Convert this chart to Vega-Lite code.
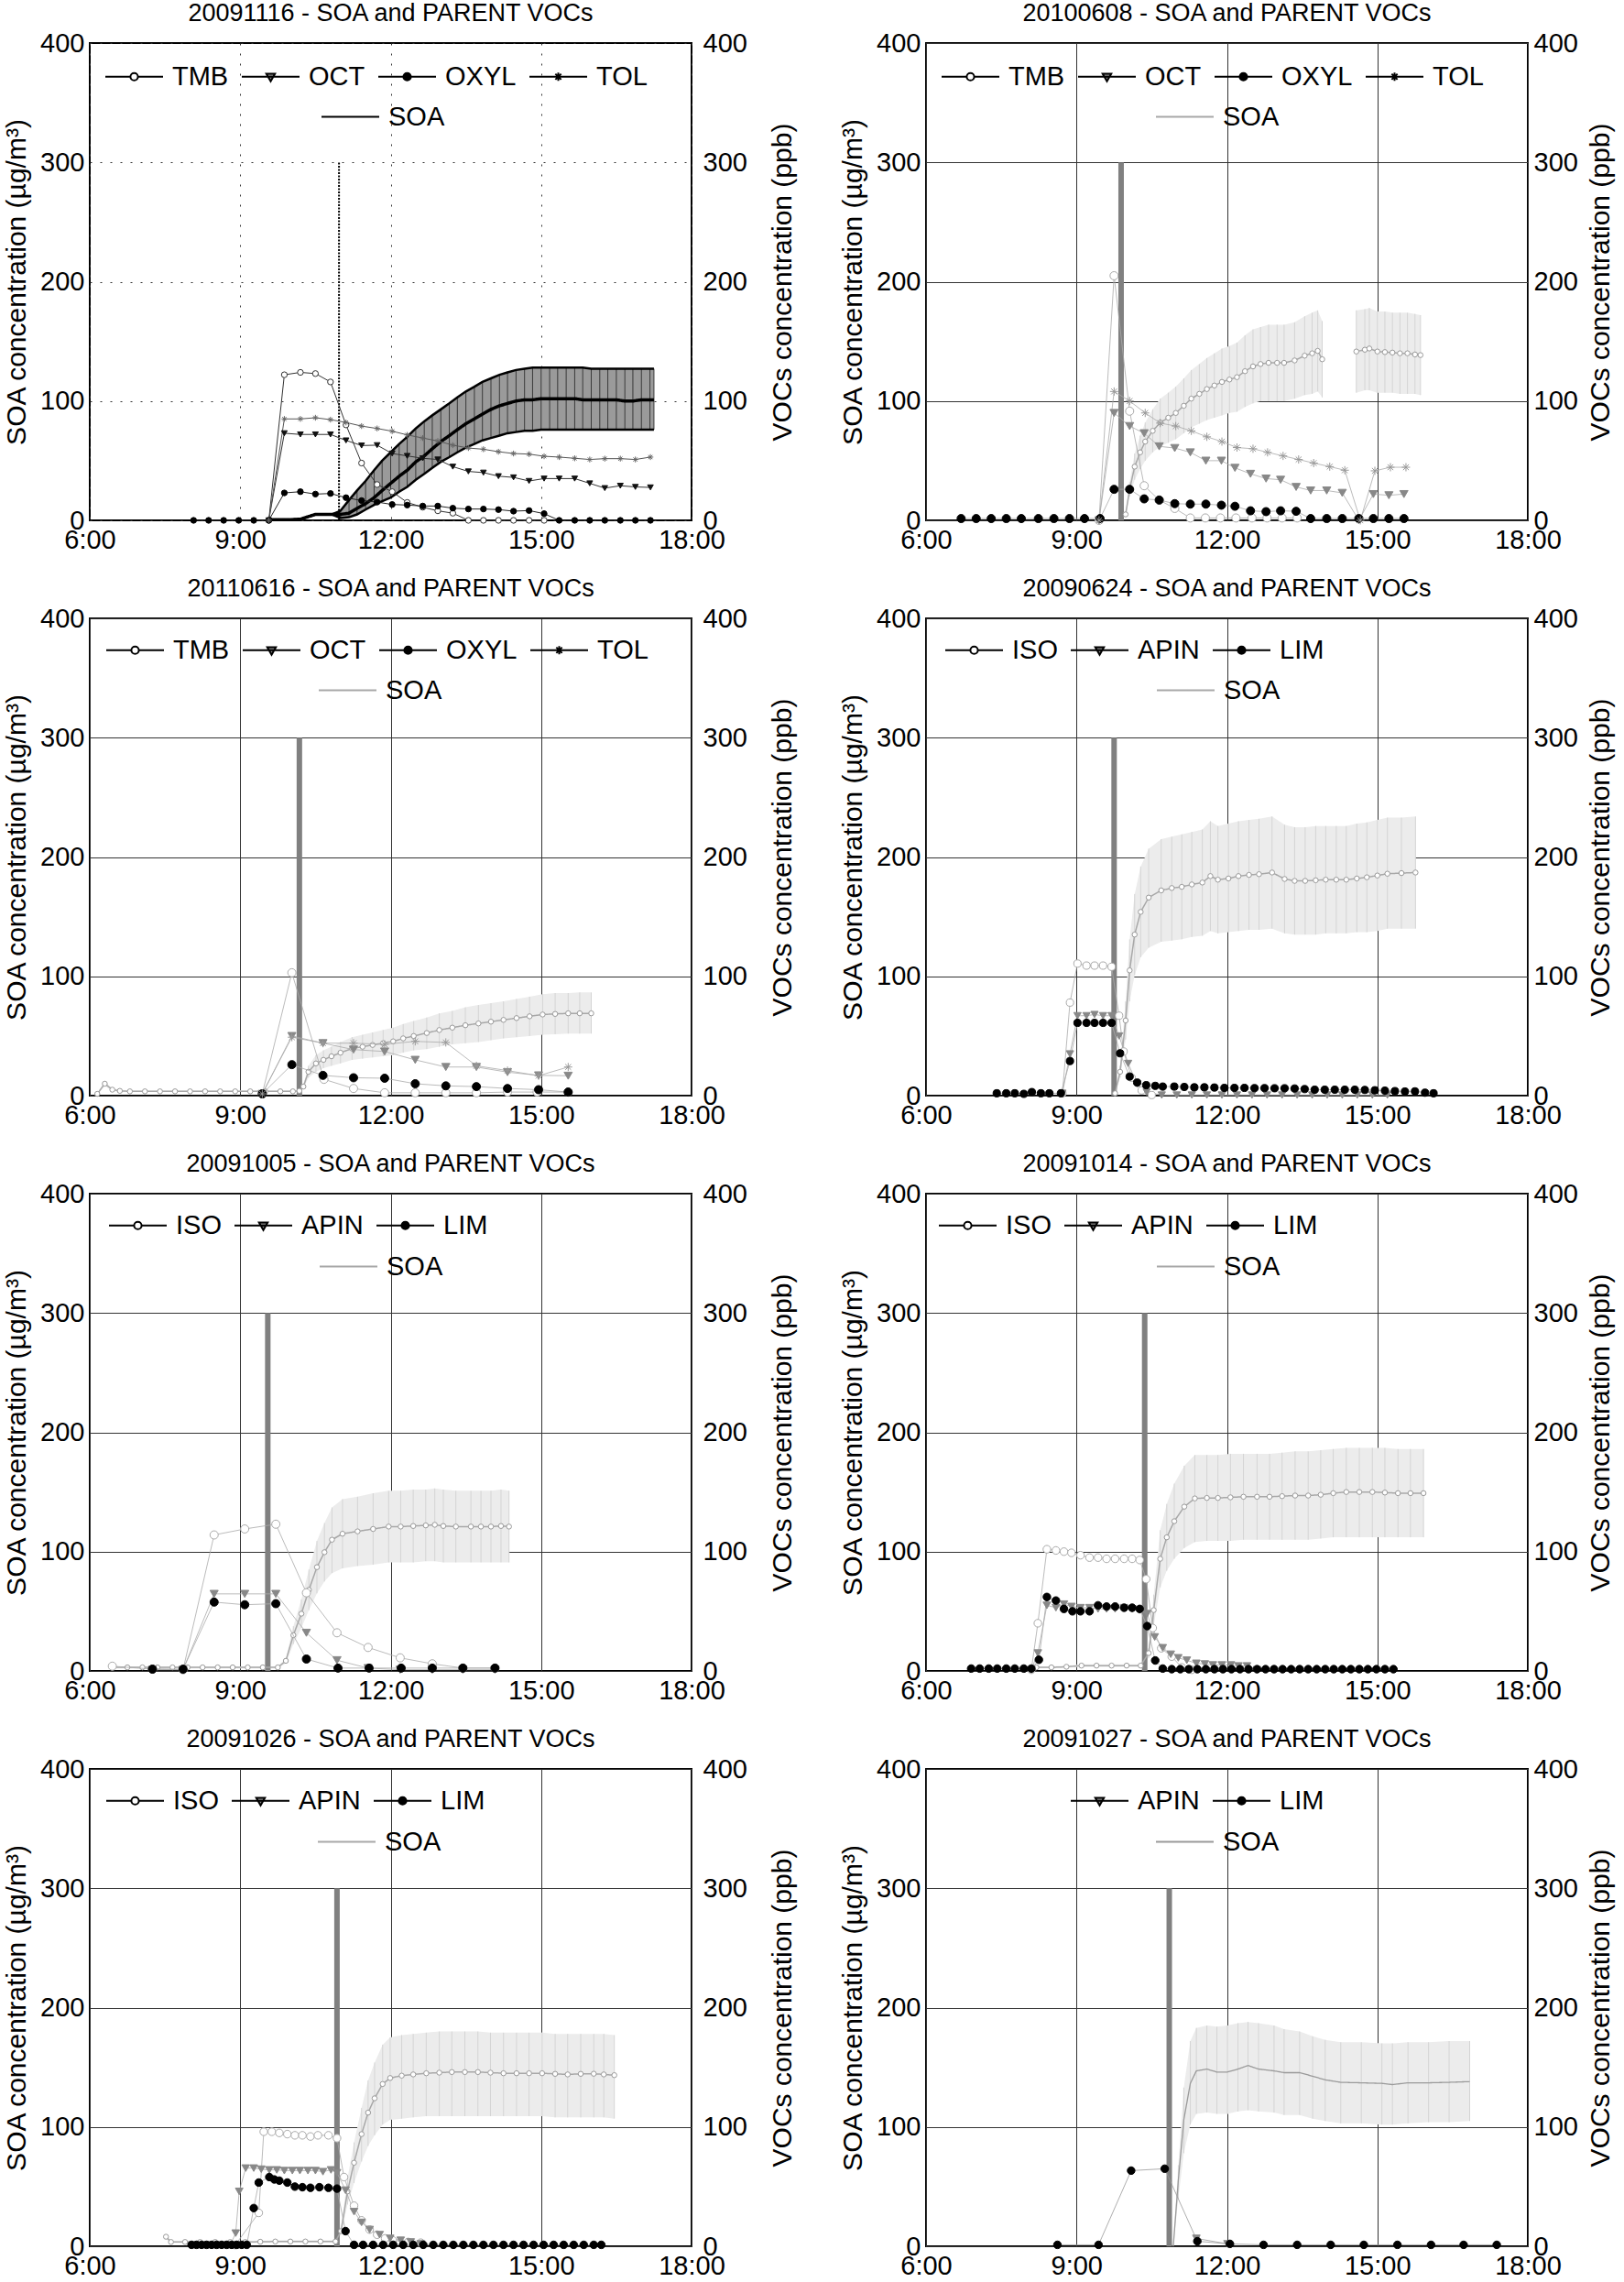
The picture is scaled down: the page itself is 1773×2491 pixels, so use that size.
{
  "$schema": "https://vega.github.io/schema/vega-lite/v6.json",
  "padding": {"left": 2, "top": 0, "right": 0, "bottom": 0},
  "background": "white",
  "datasets": {
    "inj": [
      {"p": 1, "t": 10.97}, {"p": 2, "t": 9.89}, {"p": 3, "t": 10.18}, {"p": 4, "t": 9.75},
      {"p": 5, "t": 9.55}, {"p": 6, "t": 10.36}, {"p": 7, "t": 10.93}, {"p": 8, "t": 10.85}
    ],
    "soa": [
      {"p":1,"t":9.6,"m":0.5,"lo":0.5,"hi":0.5},{"p":1,"t":9.8,"m":0.5,"lo":0.5,"hi":0.5},{"p":1,"t":10.0,"m":0.5,"lo":0.5,"hi":0.5},{"p":1,"t":10.2,"m":1,"lo":1,"hi":1},{"p":1,"t":10.35,"m":3,"lo":3,"hi":3},{"p":1,"t":10.5,"m":5,"lo":5,"hi":5},{"p":1,"t":10.67,"m":5,"lo":5,"hi":5},{"p":1,"t":10.83,"m":5,"lo":5,"hi":5},
      {"p":1,"t":11.0,"m":5,"lo":2,"hi":8},{"p":1,"t":11.17,"m":6,"lo":2.6,"hi":17},{"p":1,"t":11.33,"m":10,"lo":5,"hi":25},{"p":1,"t":11.5,"m":14,"lo":9,"hi":33},{"p":1,"t":11.67,"m":19,"lo":13,"hi":42},{"p":1,"t":11.83,"m":25,"lo":16,"hi":50},
      {"p":1,"t":12.0,"m":31,"lo":19,"hi":57},{"p":1,"t":12.17,"m":37,"lo":24,"hi":64},{"p":1,"t":12.33,"m":42,"lo":28,"hi":70},{"p":1,"t":12.5,"m":49,"lo":34,"hi":77},{"p":1,"t":12.67,"m":54,"lo":39,"hi":83},{"p":1,"t":12.83,"m":60,"lo":44,"hi":88},
      {"p":1,"t":13.0,"m":66,"lo":49,"hi":93},{"p":1,"t":13.17,"m":71,"lo":53,"hi":98},{"p":1,"t":13.33,"m":76,"lo":57,"hi":103},{"p":1,"t":13.5,"m":81,"lo":61,"hi":108},{"p":1,"t":13.67,"m":85,"lo":64,"hi":112},{"p":1,"t":13.83,"m":89,"lo":67,"hi":116},
      {"p":1,"t":14.0,"m":93,"lo":69,"hi":119},{"p":1,"t":14.17,"m":96,"lo":71,"hi":122},{"p":1,"t":14.33,"m":98,"lo":73,"hi":124},{"p":1,"t":14.5,"m":100,"lo":74,"hi":126},{"p":1,"t":14.67,"m":101,"lo":75,"hi":127},{"p":1,"t":14.83,"m":101,"lo":75,"hi":128},
      {"p":1,"t":15.0,"m":102,"lo":76,"hi":128},{"p":1,"t":15.17,"m":102,"lo":76,"hi":128},{"p":1,"t":15.33,"m":102,"lo":76,"hi":128},{"p":1,"t":15.5,"m":102,"lo":76,"hi":128},{"p":1,"t":15.67,"m":102,"lo":76,"hi":128},{"p":1,"t":15.83,"m":101,"lo":76,"hi":128},
      {"p":1,"t":16.0,"m":101,"lo":76,"hi":127},{"p":1,"t":16.17,"m":101,"lo":76,"hi":127},{"p":1,"t":16.33,"m":101,"lo":76,"hi":127},{"p":1,"t":16.5,"m":101,"lo":76,"hi":127},{"p":1,"t":16.67,"m":100,"lo":76,"hi":127},{"p":1,"t":16.83,"m":100,"lo":76,"hi":127},
      {"p":1,"t":17.0,"m":101,"lo":76,"hi":127},{"p":1,"t":17.17,"m":101,"lo":76,"hi":127},{"p":1,"t":17.25,"m":101,"lo":76,"hi":127},

      {"p":2,"g":1,"t":9.98,"m":5,"lo":4,"hi":6},{"p":2,"g":1,"t":10.06,"m":26,"lo":20,"hi":32},{"p":2,"g":1,"t":10.16,"m":45,"lo":34,"hi":56},{"p":2,"g":1,"t":10.27,"m":57,"lo":43,"hi":71},{"p":2,"g":1,"t":10.37,"m":66,"lo":50,"hi":82},{"p":2,"g":1,"t":10.52,"m":75,"lo":57,"hi":93},
      {"p":2,"g":1,"t":10.67,"m":82,"lo":62,"hi":102},{"p":2,"g":1,"t":10.83,"m":86,"lo":65,"hi":107},{"p":2,"g":1,"t":10.98,"m":90,"lo":68,"hi":112},{"p":2,"g":1,"t":11.14,"m":96,"lo":73,"hi":119},{"p":2,"g":1,"t":11.29,"m":102,"lo":78,"hi":126},{"p":2,"g":1,"t":11.45,"m":106,"lo":81,"hi":131},
      {"p":2,"g":1,"t":11.6,"m":110,"lo":84,"hi":136},{"p":2,"g":1,"t":11.75,"m":113,"lo":86,"hi":140},{"p":2,"g":1,"t":11.9,"m":116,"lo":88,"hi":144},{"p":2,"g":1,"t":12.05,"m":118,"lo":90,"hi":146},{"p":2,"g":1,"t":12.2,"m":120,"lo":91,"hi":149},{"p":2,"g":1,"t":12.36,"m":125,"lo":95,"hi":155},
      {"p":2,"g":1,"t":12.52,"m":129,"lo":98,"hi":160},{"p":2,"g":1,"t":12.67,"m":131,"lo":100,"hi":162},{"p":2,"g":1,"t":12.83,"m":132,"lo":100,"hi":164},{"p":2,"g":1,"t":13.0,"m":132,"lo":100,"hi":164},{"p":2,"g":1,"t":13.14,"m":132,"lo":100,"hi":164},{"p":2,"g":1,"t":13.35,"m":134,"lo":102,"hi":166},
      {"p":2,"g":1,"t":13.55,"m":138,"lo":105,"hi":171},{"p":2,"g":1,"t":13.7,"m":140,"lo":106,"hi":174},{"p":2,"g":1,"t":13.81,"m":142,"lo":108,"hi":176},{"p":2,"g":1,"t":13.9,"m":135,"lo":103,"hi":167},
      {"p":2,"g":2,"t":14.58,"m":141.5,"lo":107,"hi":176},{"p":2,"g":2,"t":14.75,"m":143,"lo":109,"hi":177},{"p":2,"g":2,"t":14.84,"m":144,"lo":109,"hi":178},{"p":2,"g":2,"t":15.0,"m":141.5,"lo":107,"hi":175},{"p":2,"g":2,"t":15.15,"m":141,"lo":107,"hi":175},
      {"p":2,"g":2,"t":15.3,"m":140.6,"lo":107,"hi":174},{"p":2,"g":2,"t":15.45,"m":140,"lo":106,"hi":174},{"p":2,"g":2,"t":15.6,"m":140,"lo":106,"hi":174},{"p":2,"g":2,"t":15.75,"m":139,"lo":106,"hi":173},{"p":2,"g":2,"t":15.86,"m":138.5,"lo":105,"hi":172},

      {"p":3,"t":6.15,"m":1.5,"lo":1,"hi":2},{"p":3,"t":6.3,"m":10,"lo":8,"hi":12},{"p":3,"t":6.45,"m":5,"lo":4,"hi":6},{"p":3,"t":6.6,"m":4,"lo":3,"hi":5},{"p":3,"t":6.8,"m":3.6,"lo":3,"hi":4.5},{"p":3,"t":7.1,"m":3.6,"lo":3,"hi":4.5},
      {"p":3,"t":7.4,"m":3.6,"lo":3,"hi":4.5},{"p":3,"t":7.7,"m":3.6,"lo":3,"hi":4.5},{"p":3,"t":8.0,"m":3.6,"lo":3,"hi":4.5},{"p":3,"t":8.3,"m":3.6,"lo":3,"hi":4.5},{"p":3,"t":8.6,"m":3.6,"lo":3,"hi":4.5},{"p":3,"t":8.9,"m":3.6,"lo":3,"hi":4.5},
      {"p":3,"t":9.2,"m":3.6,"lo":3,"hi":4.5},{"p":3,"t":9.5,"m":3.6,"lo":3,"hi":4.5},{"p":3,"t":9.8,"m":3.6,"lo":3,"hi":4.5},{"p":3,"t":10.05,"m":3.6,"lo":3,"hi":4.5},{"p":3,"t":10.18,"m":4,"lo":3,"hi":5},{"p":3,"t":10.26,"m":7.6,"lo":6,"hi":9.5},
      {"p":3,"t":10.36,"m":20,"lo":15,"hi":25},{"p":3,"t":10.51,"m":27,"lo":20,"hi":34},{"p":3,"t":10.66,"m":30,"lo":23,"hi":38},{"p":3,"t":10.82,"m":33,"lo":25,"hi":41},{"p":3,"t":11.0,"m":36,"lo":27,"hi":45},{"p":3,"t":11.23,"m":39.5,"lo":30,"hi":49},
      {"p":3,"t":11.44,"m":41,"lo":31,"hi":51},{"p":3,"t":11.64,"m":42.5,"lo":32,"hi":53},{"p":3,"t":11.85,"m":44,"lo":33,"hi":55},{"p":3,"t":12.05,"m":45.5,"lo":34,"hi":57},{"p":3,"t":12.25,"m":48,"lo":36,"hi":60},{"p":3,"t":12.46,"m":50,"lo":38,"hi":62.5},
      {"p":3,"t":12.72,"m":52.5,"lo":39,"hi":65.5},{"p":3,"t":12.97,"m":55,"lo":41,"hi":69},{"p":3,"t":13.23,"m":57,"lo":43,"hi":71},{"p":3,"t":13.49,"m":59,"lo":44,"hi":74},{"p":3,"t":13.75,"m":60.5,"lo":45,"hi":76},{"p":3,"t":14.0,"m":62,"lo":46.5,"hi":77.5},
      {"p":3,"t":14.25,"m":63.5,"lo":48,"hi":79},{"p":3,"t":14.51,"m":65,"lo":49,"hi":81},{"p":3,"t":14.77,"m":66.5,"lo":50,"hi":83},{"p":3,"t":15.03,"m":68,"lo":51,"hi":85},{"p":3,"t":15.28,"m":68.5,"lo":51.5,"hi":86},{"p":3,"t":15.54,"m":69,"lo":52,"hi":86},
      {"p":3,"t":15.77,"m":69,"lo":52,"hi":86.5},{"p":3,"t":16.0,"m":69,"lo":52,"hi":86.5},

      {"p":4,"t":9.77,"m":2,"lo":1.5,"hi":2.5},{"p":4,"t":9.87,"m":20,"lo":15,"hi":25},{"p":4,"t":9.98,"m":63,"lo":47,"hi":79},{"p":4,"t":10.06,"m":105,"lo":79,"hi":131},{"p":4,"t":10.16,"m":135,"lo":101,"hi":169},{"p":4,"t":10.28,"m":154,"lo":116,"hi":192},
      {"p":4,"t":10.44,"m":166,"lo":124,"hi":207},{"p":4,"t":10.69,"m":172,"lo":129,"hi":215},{"p":4,"t":10.9,"m":174,"lo":130,"hi":217},{"p":4,"t":11.1,"m":175,"lo":131,"hi":219},{"p":4,"t":11.3,"m":177,"lo":133,"hi":221},{"p":4,"t":11.51,"m":178.6,"lo":134,"hi":223},
      {"p":4,"t":11.67,"m":184,"lo":138,"hi":230},{"p":4,"t":11.82,"m":181,"lo":136,"hi":226},{"p":4,"t":12.03,"m":182,"lo":137,"hi":228},{"p":4,"t":12.23,"m":184,"lo":138,"hi":230},{"p":4,"t":12.44,"m":185,"lo":139,"hi":231},{"p":4,"t":12.64,"m":185.6,"lo":139,"hi":232},
      {"p":4,"t":12.9,"m":187,"lo":140,"hi":234},{"p":4,"t":13.15,"m":181.6,"lo":136,"hi":227},{"p":4,"t":13.35,"m":180,"lo":135,"hi":225},{"p":4,"t":13.56,"m":180,"lo":135,"hi":225},{"p":4,"t":13.77,"m":180.5,"lo":135,"hi":226},{"p":4,"t":13.97,"m":181,"lo":136,"hi":226},
      {"p":4,"t":14.18,"m":181,"lo":136,"hi":226},{"p":4,"t":14.38,"m":181,"lo":136,"hi":226},{"p":4,"t":14.59,"m":182,"lo":137,"hi":228},{"p":4,"t":14.79,"m":183,"lo":137,"hi":229},{"p":4,"t":15.0,"m":184.5,"lo":138,"hi":231},{"p":4,"t":15.2,"m":186,"lo":140,"hi":233},
      {"p":4,"t":15.48,"m":186.5,"lo":140,"hi":233},{"p":4,"t":15.76,"m":187,"lo":140,"hi":234},

      {"p":5,"t":6.45,"m":3,"lo":2.2,"hi":3.8},{"p":5,"t":6.75,"m":3,"lo":2.2,"hi":3.8},{"p":5,"t":7.05,"m":3,"lo":2.2,"hi":3.8},{"p":5,"t":7.35,"m":3,"lo":2.2,"hi":3.8},{"p":5,"t":7.65,"m":3,"lo":2.2,"hi":3.8},{"p":5,"t":7.95,"m":3,"lo":2.2,"hi":3.8},
      {"p":5,"t":8.25,"m":3,"lo":2.2,"hi":3.8},{"p":5,"t":8.55,"m":3,"lo":2.2,"hi":3.8},{"p":5,"t":8.85,"m":3,"lo":2.2,"hi":3.8},{"p":5,"t":9.15,"m":3,"lo":2.2,"hi":3.8},{"p":5,"t":9.45,"m":3,"lo":2.2,"hi":3.8},{"p":5,"t":9.75,"m":3,"lo":2.2,"hi":3.8},
      {"p":5,"t":9.91,"m":8.5,"lo":6.4,"hi":10.6},{"p":5,"t":10.06,"m":30,"lo":22.5,"hi":37.5},{"p":5,"t":10.22,"m":48,"lo":36,"hi":60},{"p":5,"t":10.37,"m":68,"lo":51,"hi":85},{"p":5,"t":10.53,"m":87,"lo":65,"hi":109},{"p":5,"t":10.68,"m":99.5,"lo":75,"hi":124},
      {"p":5,"t":10.83,"m":110,"lo":82,"hi":137},{"p":5,"t":11.04,"m":115,"lo":86,"hi":144},{"p":5,"t":11.34,"m":117,"lo":88,"hi":146},{"p":5,"t":11.65,"m":119,"lo":89,"hi":149},{"p":5,"t":11.96,"m":121,"lo":91,"hi":151},{"p":5,"t":12.2,"m":121,"lo":91,"hi":151},
      {"p":5,"t":12.45,"m":121.5,"lo":91,"hi":152},{"p":5,"t":12.7,"m":122,"lo":92,"hi":152},{"p":5,"t":12.88,"m":122.5,"lo":92,"hi":153},{"p":5,"t":13.05,"m":121.5,"lo":91,"hi":152},{"p":5,"t":13.3,"m":121,"lo":91,"hi":151},{"p":5,"t":13.6,"m":121,"lo":91,"hi":151},
      {"p":5,"t":13.8,"m":121,"lo":91,"hi":151},{"p":5,"t":14.0,"m":121,"lo":91,"hi":151},{"p":5,"t":14.2,"m":121.5,"lo":91,"hi":152},{"p":5,"t":14.36,"m":121,"lo":91,"hi":151},

      {"p":6,"t":8.2,"m":3,"lo":2.3,"hi":3.8},{"p":6,"t":8.5,"m":3,"lo":2.3,"hi":3.8},{"p":6,"t":8.8,"m":3.5,"lo":2.6,"hi":4.4},{"p":6,"t":9.1,"m":4.5,"lo":3.4,"hi":5.6},{"p":6,"t":9.4,"m":4.5,"lo":3.4,"hi":5.6},{"p":6,"t":9.7,"m":4.5,"lo":3.4,"hi":5.6},
      {"p":6,"t":10.0,"m":4.5,"lo":3.4,"hi":5.6},{"p":6,"t":10.28,"m":4.5,"lo":3.4,"hi":5.6},{"p":6,"t":10.44,"m":15,"lo":11,"hi":19},{"p":6,"t":10.54,"m":51,"lo":38,"hi":64},{"p":6,"t":10.67,"m":94,"lo":70,"hi":118},{"p":6,"t":10.8,"m":112,"lo":84,"hi":140},
      {"p":6,"t":10.95,"m":125.5,"lo":94,"hi":157},{"p":6,"t":11.15,"m":137.7,"lo":103,"hi":172},{"p":6,"t":11.36,"m":144.6,"lo":108,"hi":181},{"p":6,"t":11.6,"m":145,"lo":109,"hi":181},{"p":6,"t":11.82,"m":145,"lo":109,"hi":181},{"p":6,"t":12.07,"m":145.5,"lo":109,"hi":182},
      {"p":6,"t":12.33,"m":146,"lo":110,"hi":182},{"p":6,"t":12.6,"m":146,"lo":110,"hi":182},{"p":6,"t":12.85,"m":146,"lo":110,"hi":182},{"p":6,"t":13.1,"m":146.5,"lo":110,"hi":183},{"p":6,"t":13.36,"m":147,"lo":110,"hi":184},{"p":6,"t":13.62,"m":147,"lo":110,"hi":184},
      {"p":6,"t":13.87,"m":147.7,"lo":111,"hi":185},{"p":6,"t":14.12,"m":149,"lo":112,"hi":186},{"p":6,"t":14.38,"m":150,"lo":112,"hi":187},{"p":6,"t":14.64,"m":150,"lo":112,"hi":187},{"p":6,"t":14.9,"m":150,"lo":112,"hi":187},{"p":6,"t":15.15,"m":149.5,"lo":112,"hi":187},
      {"p":6,"t":15.41,"m":149,"lo":112,"hi":186},{"p":6,"t":15.66,"m":149,"lo":112,"hi":186},{"p":6,"t":15.92,"m":149,"lo":112,"hi":186},

      {"p":7,"t":7.52,"m":8,"lo":6,"hi":10},{"p":7,"t":7.62,"m":3.6,"lo":2.8,"hi":4.5},{"p":7,"t":7.9,"m":3.6,"lo":2.8,"hi":4.5},{"p":7,"t":8.2,"m":3.6,"lo":2.8,"hi":4.5},{"p":7,"t":8.5,"m":3.6,"lo":2.8,"hi":4.5},{"p":7,"t":8.8,"m":3.6,"lo":2.8,"hi":4.5},
      {"p":7,"t":9.1,"m":3.6,"lo":2.8,"hi":4.5},{"p":7,"t":9.4,"m":3.8,"lo":2.9,"hi":4.7},{"p":7,"t":9.7,"m":4,"lo":3,"hi":5},{"p":7,"t":10.0,"m":4,"lo":3,"hi":5},{"p":7,"t":10.3,"m":4,"lo":3,"hi":5},{"p":7,"t":10.6,"m":4,"lo":3,"hi":5},{"p":7,"t":10.9,"m":4,"lo":3,"hi":5},
      {"p":7,"t":11.01,"m":12.7,"lo":10,"hi":16},{"p":7,"t":11.14,"m":46,"lo":35,"hi":57},{"p":7,"t":11.27,"m":70,"lo":53,"hi":87},{"p":7,"t":11.42,"m":94,"lo":71,"hi":116},{"p":7,"t":11.55,"m":112,"lo":84,"hi":139},{"p":7,"t":11.68,"m":124,"lo":93,"hi":154},
      {"p":7,"t":11.84,"m":136,"lo":102,"hi":169},{"p":7,"t":11.99,"m":141,"lo":106,"hi":175},{"p":7,"t":12.22,"m":143,"lo":107,"hi":177},{"p":7,"t":12.45,"m":144,"lo":108,"hi":178},{"p":7,"t":12.71,"m":145,"lo":109,"hi":179},{"p":7,"t":12.97,"m":145.5,"lo":109,"hi":180},
      {"p":7,"t":13.22,"m":146,"lo":109,"hi":180},{"p":7,"t":13.48,"m":146,"lo":109,"hi":180},{"p":7,"t":13.74,"m":146,"lo":109,"hi":180},{"p":7,"t":13.99,"m":145.5,"lo":109,"hi":179},{"p":7,"t":14.25,"m":145,"lo":109,"hi":179},{"p":7,"t":14.51,"m":145,"lo":109,"hi":179},
      {"p":7,"t":14.76,"m":145,"lo":109,"hi":179},{"p":7,"t":15.02,"m":145,"lo":109,"hi":179},{"p":7,"t":15.28,"m":144.5,"lo":108,"hi":178},{"p":7,"t":15.53,"m":144,"lo":108,"hi":178},{"p":7,"t":15.79,"m":144.5,"lo":108,"hi":178},{"p":7,"t":16.05,"m":144.6,"lo":108,"hi":178},
      {"p":7,"t":16.25,"m":144,"lo":108,"hi":178},{"p":7,"t":16.46,"m":143.4,"lo":107,"hi":177},

      {"p":8,"t":10.93,"m":0,"lo":0,"hi":0},{"p":8,"t":11.03,"m":55,"lo":40,"hi":68},{"p":8,"t":11.14,"m":106,"lo":78,"hi":133},{"p":8,"t":11.27,"m":136.5,"lo":102,"hi":172},{"p":8,"t":11.39,"m":147,"lo":111,"hi":183},{"p":8,"t":11.6,"m":148.5,"lo":112,"hi":185},
      {"p":8,"t":11.8,"m":146,"lo":111,"hi":184},{"p":8,"t":12.01,"m":146,"lo":111,"hi":185},{"p":8,"t":12.22,"m":148.5,"lo":113,"hi":187},{"p":8,"t":12.42,"m":151.5,"lo":114,"hi":188},{"p":8,"t":12.63,"m":148.5,"lo":113,"hi":187},{"p":8,"t":12.94,"m":147,"lo":112,"hi":185},
      {"p":8,"t":13.14,"m":145.5,"lo":110,"hi":182},{"p":8,"t":13.45,"m":145.5,"lo":110,"hi":180},{"p":8,"t":13.71,"m":142.5,"lo":107,"hi":176},{"p":8,"t":13.96,"m":139.5,"lo":105,"hi":173},{"p":8,"t":14.27,"m":137.4,"lo":103,"hi":171},{"p":8,"t":14.68,"m":137,"lo":103,"hi":171},
      {"p":8,"t":15.09,"m":136.5,"lo":102,"hi":170},{"p":8,"t":15.3,"m":135.5,"lo":102,"hi":170},{"p":8,"t":15.61,"m":137,"lo":103,"hi":171},{"p":8,"t":16.02,"m":137,"lo":104,"hi":171},{"p":8,"t":16.43,"m":137.4,"lo":104,"hi":172},{"p":8,"t":16.84,"m":138,"lo":105,"hi":172}
    ],
    "voc": [
      {"p":1,"s":"TMB","t":9.57,"v":0},{"p":1,"s":"TMB","t":9.88,"v":122},{"p":1,"s":"TMB","t":10.2,"v":124},{"p":1,"s":"TMB","t":10.5,"v":123},{"p":1,"s":"TMB","t":10.8,"v":116},{"p":1,"s":"TMB","t":11.11,"v":80},{"p":1,"s":"TMB","t":11.42,"v":48},{"p":1,"s":"TMB","t":11.73,"v":30},
      {"p":1,"s":"TMB","t":12.03,"v":24},{"p":1,"s":"TMB","t":12.33,"v":15},{"p":1,"s":"TMB","t":12.64,"v":11},{"p":1,"s":"TMB","t":12.94,"v":8},{"p":1,"s":"TMB","t":13.24,"v":6},{"p":1,"s":"TMB","t":13.55,"v":0},{"p":1,"s":"TMB","t":13.85,"v":0},{"p":1,"s":"TMB","t":14.15,"v":0},
      {"p":1,"s":"TMB","t":14.45,"v":0},{"p":1,"s":"TMB","t":14.76,"v":0},{"p":1,"s":"TMB","t":15.06,"v":0},
      {"p":1,"s":"OCT","t":9.57,"v":0},{"p":1,"s":"OCT","t":9.88,"v":73},{"p":1,"s":"OCT","t":10.2,"v":72},{"p":1,"s":"OCT","t":10.5,"v":72},{"p":1,"s":"OCT","t":10.8,"v":72},{"p":1,"s":"OCT","t":11.11,"v":67},{"p":1,"s":"OCT","t":11.42,"v":62.7},{"p":1,"s":"OCT","t":11.73,"v":63},
      {"p":1,"s":"OCT","t":12.03,"v":56},{"p":1,"s":"OCT","t":12.33,"v":54},{"p":1,"s":"OCT","t":12.64,"v":52},{"p":1,"s":"OCT","t":12.94,"v":51},{"p":1,"s":"OCT","t":13.24,"v":45},{"p":1,"s":"OCT","t":13.55,"v":41},{"p":1,"s":"OCT","t":13.85,"v":40},{"p":1,"s":"OCT","t":14.15,"v":37},
      {"p":1,"s":"OCT","t":14.45,"v":36},{"p":1,"s":"OCT","t":14.76,"v":33},{"p":1,"s":"OCT","t":15.06,"v":35},{"p":1,"s":"OCT","t":15.36,"v":35},{"p":1,"s":"OCT","t":15.67,"v":35},{"p":1,"s":"OCT","t":15.97,"v":31},{"p":1,"s":"OCT","t":16.27,"v":27},{"p":1,"s":"OCT","t":16.58,"v":29},
      {"p":1,"s":"OCT","t":16.88,"v":28},{"p":1,"s":"OCT","t":17.18,"v":27.6},
      {"p":1,"s":"OXYL","t":8.07,"v":0},{"p":1,"s":"OXYL","t":8.37,"v":0},{"p":1,"s":"OXYL","t":8.67,"v":0},{"p":1,"s":"OXYL","t":8.97,"v":0},{"p":1,"s":"OXYL","t":9.27,"v":0},{"p":1,"s":"OXYL","t":9.57,"v":0},{"p":1,"s":"OXYL","t":9.88,"v":23},{"p":1,"s":"OXYL","t":10.2,"v":24},
      {"p":1,"s":"OXYL","t":10.5,"v":22},{"p":1,"s":"OXYL","t":10.8,"v":22.5},{"p":1,"s":"OXYL","t":11.11,"v":19},{"p":1,"s":"OXYL","t":11.42,"v":16.6},{"p":1,"s":"OXYL","t":11.73,"v":15.3},{"p":1,"s":"OXYL","t":12.03,"v":13.3},{"p":1,"s":"OXYL","t":12.33,"v":12.8},{"p":1,"s":"OXYL","t":12.64,"v":12},
      {"p":1,"s":"OXYL","t":12.94,"v":12},{"p":1,"s":"OXYL","t":13.24,"v":10.2},{"p":1,"s":"OXYL","t":13.55,"v":9.5},{"p":1,"s":"OXYL","t":13.85,"v":9.5},{"p":1,"s":"OXYL","t":14.15,"v":9},{"p":1,"s":"OXYL","t":14.45,"v":7.7},{"p":1,"s":"OXYL","t":14.76,"v":8.2},{"p":1,"s":"OXYL","t":15.06,"v":5.6},
      {"p":1,"s":"OXYL","t":15.36,"v":0},{"p":1,"s":"OXYL","t":15.67,"v":0},{"p":1,"s":"OXYL","t":15.97,"v":0},{"p":1,"s":"OXYL","t":16.27,"v":0},{"p":1,"s":"OXYL","t":16.58,"v":0},{"p":1,"s":"OXYL","t":16.88,"v":0},{"p":1,"s":"OXYL","t":17.18,"v":0},
      {"p":1,"s":"TOL","t":9.57,"v":0},{"p":1,"s":"TOL","t":9.88,"v":85},{"p":1,"s":"TOL","t":10.2,"v":85},{"p":1,"s":"TOL","t":10.5,"v":86},{"p":1,"s":"TOL","t":10.8,"v":84.4},{"p":1,"s":"TOL","t":11.11,"v":82},{"p":1,"s":"TOL","t":11.42,"v":79},{"p":1,"s":"TOL","t":11.73,"v":77},
      {"p":1,"s":"TOL","t":12.03,"v":74.7},{"p":1,"s":"TOL","t":12.33,"v":71.6},{"p":1,"s":"TOL","t":12.64,"v":69},{"p":1,"s":"TOL","t":12.94,"v":66.5},{"p":1,"s":"TOL","t":13.24,"v":63},{"p":1,"s":"TOL","t":13.55,"v":60.6},{"p":1,"s":"TOL","t":13.85,"v":59.6},{"p":1,"s":"TOL","t":14.15,"v":57.5},
      {"p":1,"s":"TOL","t":14.45,"v":56},{"p":1,"s":"TOL","t":14.76,"v":55.5},{"p":1,"s":"TOL","t":15.06,"v":53.7},{"p":1,"s":"TOL","t":15.36,"v":53},{"p":1,"s":"TOL","t":15.67,"v":52},{"p":1,"s":"TOL","t":15.97,"v":51},{"p":1,"s":"TOL","t":16.27,"v":51.7},{"p":1,"s":"TOL","t":16.58,"v":51.7},
      {"p":1,"s":"TOL","t":16.88,"v":51},{"p":1,"s":"TOL","t":17.18,"v":53},

      {"p":2,"s":"TMB","t":9.45,"v":0},{"p":2,"s":"TMB","t":9.75,"v":205},{"p":2,"s":"TMB","t":10.06,"v":91.5},{"p":2,"s":"TMB","t":10.35,"v":29},{"p":2,"s":"TMB","t":10.65,"v":17},{"p":2,"s":"TMB","t":10.96,"v":10},{"p":2,"s":"TMB","t":11.27,"v":2},{"p":2,"s":"TMB","t":11.57,"v":2},
      {"p":2,"s":"TMB","t":11.87,"v":2},{"p":2,"s":"TMB","t":12.18,"v":2},{"p":2,"s":"TMB","t":12.5,"v":2},{"p":2,"s":"TMB","t":12.8,"v":2},{"p":2,"s":"TMB","t":13.1,"v":2},{"p":2,"s":"TMB","t":13.4,"v":2},
      {"p":2,"s":"OCT","t":9.45,"v":0},{"p":2,"s":"OCT","t":9.75,"v":90},{"p":2,"s":"OCT","t":10.06,"v":79},{"p":2,"s":"OCT","t":10.35,"v":73},{"p":2,"s":"OCT","t":10.65,"v":62},{"p":2,"s":"OCT","t":10.96,"v":60.6},{"p":2,"s":"OCT","t":11.27,"v":57},{"p":2,"s":"OCT","t":11.58,"v":50},
      {"p":2,"s":"OCT","t":11.89,"v":50},{"p":2,"s":"OCT","t":12.16,"v":44},{"p":2,"s":"OCT","t":12.47,"v":39},{"p":2,"s":"OCT","t":12.78,"v":35},{"p":2,"s":"OCT","t":13.07,"v":34},{"p":2,"s":"OCT","t":13.38,"v":28},{"p":2,"s":"OCT","t":13.67,"v":25},{"p":2,"s":"OCT","t":13.99,"v":25},
      {"p":2,"s":"OCT","t":14.3,"v":23},{"p":2,"s":"OCT","t":14.63,"v":0},{"p":2,"s":"OCT","t":14.92,"v":22},{"p":2,"s":"OCT","t":15.23,"v":21},{"p":2,"s":"OCT","t":15.53,"v":22},
      {"p":2,"s":"OXYL","t":6.7,"v":1.5},{"p":2,"s":"OXYL","t":7.0,"v":1.5},{"p":2,"s":"OXYL","t":7.3,"v":1.5},{"p":2,"s":"OXYL","t":7.6,"v":1.5},{"p":2,"s":"OXYL","t":7.9,"v":1.5},{"p":2,"s":"OXYL","t":8.24,"v":1.5},{"p":2,"s":"OXYL","t":8.55,"v":1.5},{"p":2,"s":"OXYL","t":8.86,"v":1.5},
      {"p":2,"s":"OXYL","t":9.16,"v":1.5},{"p":2,"s":"OXYL","t":9.47,"v":1.5},{"p":2,"s":"OXYL","t":9.75,"v":26},{"p":2,"s":"OXYL","t":10.06,"v":26},{"p":2,"s":"OXYL","t":10.35,"v":18},{"p":2,"s":"OXYL","t":10.65,"v":17},{"p":2,"s":"OXYL","t":10.96,"v":14},{"p":2,"s":"OXYL","t":11.27,"v":13.6},
      {"p":2,"s":"OXYL","t":11.58,"v":13.6},{"p":2,"s":"OXYL","t":11.89,"v":12.7},{"p":2,"s":"OXYL","t":12.16,"v":11.8},{"p":2,"s":"OXYL","t":12.47,"v":8},{"p":2,"s":"OXYL","t":12.78,"v":7.3},{"p":2,"s":"OXYL","t":13.07,"v":8},{"p":2,"s":"OXYL","t":13.38,"v":7.6},{"p":2,"s":"OXYL","t":13.67,"v":1.5},
      {"p":2,"s":"OXYL","t":13.99,"v":1.5},{"p":2,"s":"OXYL","t":14.3,"v":1.5},{"p":2,"s":"OXYL","t":14.63,"v":1.5},{"p":2,"s":"OXYL","t":14.92,"v":1.5},{"p":2,"s":"OXYL","t":15.23,"v":1.5},{"p":2,"s":"OXYL","t":15.53,"v":1.5},
      {"p":2,"s":"TOL","t":9.45,"v":0},{"p":2,"s":"TOL","t":9.75,"v":108},{"p":2,"s":"TOL","t":10.06,"v":100},{"p":2,"s":"TOL","t":10.37,"v":90},{"p":2,"s":"TOL","t":10.67,"v":81.5},{"p":2,"s":"TOL","t":10.98,"v":79},{"p":2,"s":"TOL","t":11.29,"v":75},{"p":2,"s":"TOL","t":11.6,"v":70},
      {"p":2,"s":"TOL","t":11.9,"v":66},{"p":2,"s":"TOL","t":12.2,"v":61},{"p":2,"s":"TOL","t":12.52,"v":60},{"p":2,"s":"TOL","t":12.81,"v":57},{"p":2,"s":"TOL","t":13.12,"v":54},{"p":2,"s":"TOL","t":13.43,"v":51},{"p":2,"s":"TOL","t":13.73,"v":48},{"p":2,"s":"TOL","t":14.05,"v":45},
      {"p":2,"s":"TOL","t":14.35,"v":42},{"p":2,"s":"TOL","t":14.66,"v":0},{"p":2,"s":"TOL","t":14.95,"v":41.5},{"p":2,"s":"TOL","t":15.26,"v":44.5},{"p":2,"s":"TOL","t":15.57,"v":44.5},

      {"p":3,"s":"TMB","t":9.44,"v":1.5},{"p":3,"s":"TMB","t":10.03,"v":103},{"p":3,"s":"TMB","t":10.67,"v":13.7},{"p":3,"s":"TMB","t":11.26,"v":6},{"p":3,"s":"TMB","t":11.88,"v":2.4},{"p":3,"s":"TMB","t":12.49,"v":2.4},{"p":3,"s":"TMB","t":13.1,"v":2.4},{"p":3,"s":"TMB","t":13.71,"v":2.4},
      {"p":3,"s":"TMB","t":14.33,"v":3},{"p":3,"s":"TMB","t":14.92,"v":3},{"p":3,"s":"TMB","t":15.54,"v":3},
      {"p":3,"s":"OCT","t":9.44,"v":1.5},{"p":3,"s":"OCT","t":10.03,"v":50},{"p":3,"s":"OCT","t":10.65,"v":44},{"p":3,"s":"OCT","t":11.26,"v":38.6},{"p":3,"s":"OCT","t":11.88,"v":37},{"p":3,"s":"OCT","t":12.49,"v":30},{"p":3,"s":"OCT","t":13.1,"v":24},{"p":3,"s":"OCT","t":13.71,"v":24},
      {"p":3,"s":"OCT","t":14.33,"v":19.7},{"p":3,"s":"OCT","t":14.95,"v":17},{"p":3,"s":"OCT","t":15.54,"v":16.7},
      {"p":3,"s":"OXYL","t":9.44,"v":1.5},{"p":3,"s":"OXYL","t":10.03,"v":26},{"p":3,"s":"OXYL","t":10.65,"v":17},{"p":3,"s":"OXYL","t":11.26,"v":15},{"p":3,"s":"OXYL","t":11.88,"v":14.6},{"p":3,"s":"OXYL","t":12.49,"v":10},{"p":3,"s":"OXYL","t":13.1,"v":8.2},{"p":3,"s":"OXYL","t":13.71,"v":7.6},
      {"p":3,"s":"OXYL","t":14.33,"v":6},{"p":3,"s":"OXYL","t":14.95,"v":5},{"p":3,"s":"OXYL","t":15.54,"v":3},
      {"p":3,"s":"TOL","t":9.44,"v":1.5},{"p":3,"s":"TOL","t":10.03,"v":49},{"p":3,"s":"TOL","t":10.65,"v":44},{"p":3,"s":"TOL","t":11.26,"v":44},{"p":3,"s":"TOL","t":11.88,"v":43},{"p":3,"s":"TOL","t":12.49,"v":45.5},{"p":3,"s":"TOL","t":13.1,"v":44.6},{"p":3,"s":"TOL","t":13.71,"v":25},
      {"p":3,"s":"TOL","t":14.33,"v":21},{"p":3,"s":"TOL","t":14.95,"v":16.7},{"p":3,"s":"TOL","t":15.54,"v":24},

      {"p":4,"s":"ISO","t":8.72,"v":2},{"p":4,"s":"ISO","t":8.87,"v":78},{"p":4,"s":"ISO","t":9.02,"v":110.7},{"p":4,"s":"ISO","t":9.2,"v":109},{"p":4,"s":"ISO","t":9.36,"v":109},{"p":4,"s":"ISO","t":9.53,"v":109},{"p":4,"s":"ISO","t":9.7,"v":108},{"p":4,"s":"ISO","t":9.85,"v":67},
      {"p":4,"s":"ISO","t":9.94,"v":37},{"p":4,"s":"ISO","t":10.1,"v":15},{"p":4,"s":"ISO","t":10.3,"v":4.4},{"p":4,"s":"ISO","t":10.5,"v":0.5},
      {"p":4,"s":"APIN","t":8.72,"v":2},{"p":4,"s":"APIN","t":8.87,"v":35},{"p":4,"s":"APIN","t":9.02,"v":67},{"p":4,"s":"APIN","t":9.2,"v":67},{"p":4,"s":"APIN","t":9.36,"v":68},{"p":4,"s":"APIN","t":9.53,"v":67},{"p":4,"s":"APIN","t":9.7,"v":67},{"p":4,"s":"APIN","t":9.85,"v":50},
      {"p":4,"s":"APIN","t":10.03,"v":27},{"p":4,"s":"APIN","t":10.21,"v":9.7},{"p":4,"s":"APIN","t":10.4,"v":3},{"p":4,"s":"APIN","t":10.7,"v":0.5},{"p":4,"s":"APIN","t":11.0,"v":0.5},{"p":4,"s":"APIN","t":11.3,"v":0.5},{"p":4,"s":"APIN","t":11.6,"v":0.5},{"p":4,"s":"APIN","t":11.9,"v":0.5},
      {"p":4,"s":"APIN","t":12.2,"v":0.5},{"p":4,"s":"APIN","t":12.5,"v":0.5},{"p":4,"s":"APIN","t":12.8,"v":0.5},{"p":4,"s":"APIN","t":13.1,"v":0.5},{"p":4,"s":"APIN","t":13.4,"v":0.5},{"p":4,"s":"APIN","t":13.7,"v":0.5},{"p":4,"s":"APIN","t":14.0,"v":0.5},{"p":4,"s":"APIN","t":14.3,"v":0.5},
      {"p":4,"s":"APIN","t":14.6,"v":0.5},{"p":4,"s":"APIN","t":14.9,"v":0.5},{"p":4,"s":"APIN","t":15.2,"v":0.5},
      {"p":4,"s":"LIM","t":7.41,"v":2},{"p":4,"s":"LIM","t":7.6,"v":2},{"p":4,"s":"LIM","t":7.77,"v":2},{"p":4,"s":"LIM","t":7.95,"v":1.5},{"p":4,"s":"LIM","t":8.11,"v":3},{"p":4,"s":"LIM","t":8.29,"v":2},{"p":4,"s":"LIM","t":8.46,"v":2},{"p":4,"s":"LIM","t":8.69,"v":2},
      {"p":4,"s":"LIM","t":8.87,"v":29},{"p":4,"s":"LIM","t":9.02,"v":61},{"p":4,"s":"LIM","t":9.2,"v":61},{"p":4,"s":"LIM","t":9.36,"v":61},{"p":4,"s":"LIM","t":9.53,"v":61},{"p":4,"s":"LIM","t":9.7,"v":61},{"p":4,"s":"LIM","t":9.87,"v":35.5},{"p":4,"s":"LIM","t":10.06,"v":16},
      {"p":4,"s":"LIM","t":10.21,"v":11},{"p":4,"s":"LIM","t":10.39,"v":8.8},{"p":4,"s":"LIM","t":10.57,"v":8.2},{"p":4,"s":"LIM","t":10.72,"v":7.6},{"p":4,"s":"LIM","t":10.95,"v":7.6},{"p":4,"s":"LIM","t":11.15,"v":7.3},{"p":4,"s":"LIM","t":11.35,"v":7},{"p":4,"s":"LIM","t":11.55,"v":7},
      {"p":4,"s":"LIM","t":11.75,"v":6.8},{"p":4,"s":"LIM","t":11.95,"v":6.5},{"p":4,"s":"LIM","t":12.15,"v":6.5},{"p":4,"s":"LIM","t":12.35,"v":6.5},{"p":4,"s":"LIM","t":12.55,"v":6.3},{"p":4,"s":"LIM","t":12.75,"v":6.3},{"p":4,"s":"LIM","t":12.95,"v":6.2},{"p":4,"s":"LIM","t":13.15,"v":6.2},
      {"p":4,"s":"LIM","t":13.35,"v":6},{"p":4,"s":"LIM","t":13.55,"v":5.5},{"p":4,"s":"LIM","t":13.75,"v":5},{"p":4,"s":"LIM","t":13.95,"v":5},{"p":4,"s":"LIM","t":14.15,"v":5},{"p":4,"s":"LIM","t":14.35,"v":5},{"p":4,"s":"LIM","t":14.55,"v":5},{"p":4,"s":"LIM","t":14.75,"v":4.8},
      {"p":4,"s":"LIM","t":14.95,"v":4.5},{"p":4,"s":"LIM","t":15.15,"v":4.2},{"p":4,"s":"LIM","t":15.35,"v":3.8},{"p":4,"s":"LIM","t":15.55,"v":3.5},{"p":4,"s":"LIM","t":15.75,"v":3.6},{"p":4,"s":"LIM","t":15.95,"v":2.5},{"p":4,"s":"LIM","t":16.12,"v":2},

      {"p":5,"s":"ISO","t":6.45,"v":4},{"p":5,"s":"ISO","t":7.25,"v":1.5},{"p":5,"s":"ISO","t":7.86,"v":1},{"p":5,"s":"ISO","t":8.48,"v":114},{"p":5,"s":"ISO","t":9.09,"v":119},{"p":5,"s":"ISO","t":9.71,"v":123},{"p":5,"s":"ISO","t":10.32,"v":65.5},{"p":5,"s":"ISO","t":10.93,"v":32},
      {"p":5,"s":"ISO","t":11.55,"v":19.7},{"p":5,"s":"ISO","t":12.19,"v":11},{"p":5,"s":"ISO","t":12.83,"v":6},{"p":5,"s":"ISO","t":13.44,"v":2.4},{"p":5,"s":"ISO","t":14.08,"v":2.4},
      {"p":5,"s":"APIN","t":7.25,"v":1},{"p":5,"s":"APIN","t":7.86,"v":1},{"p":5,"s":"APIN","t":8.48,"v":64.6},{"p":5,"s":"APIN","t":9.09,"v":64.6},{"p":5,"s":"APIN","t":9.71,"v":64.6},{"p":5,"s":"APIN","t":10.32,"v":32},{"p":5,"s":"APIN","t":10.93,"v":9},{"p":5,"s":"APIN","t":11.55,"v":2.4},
      {"p":5,"s":"APIN","t":12.19,"v":1},{"p":5,"s":"APIN","t":12.83,"v":1},{"p":5,"s":"APIN","t":13.44,"v":1},{"p":5,"s":"APIN","t":14.08,"v":1},
      {"p":5,"s":"LIM","t":7.25,"v":1.5},{"p":5,"s":"LIM","t":7.86,"v":1.5},{"p":5,"s":"LIM","t":8.48,"v":57.7},{"p":5,"s":"LIM","t":9.09,"v":55.5},{"p":5,"s":"LIM","t":9.71,"v":56.4},{"p":5,"s":"LIM","t":10.32,"v":10},{"p":5,"s":"LIM","t":10.95,"v":2.4},{"p":5,"s":"LIM","t":11.57,"v":2.4},
      {"p":5,"s":"LIM","t":12.21,"v":2.4},{"p":5,"s":"LIM","t":12.83,"v":2.4},{"p":5,"s":"LIM","t":13.44,"v":2.4},{"p":5,"s":"LIM","t":14.08,"v":2.4},

      {"p":6,"s":"ISO","t":8.1,"v":1},{"p":6,"s":"ISO","t":8.23,"v":40},{"p":6,"s":"ISO","t":8.41,"v":102},{"p":6,"s":"ISO","t":8.59,"v":101},{"p":6,"s":"ISO","t":8.75,"v":100},{"p":6,"s":"ISO","t":8.9,"v":99},{"p":6,"s":"ISO","t":9.08,"v":97},{"p":6,"s":"ISO","t":9.26,"v":95},
      {"p":6,"s":"ISO","t":9.43,"v":95},{"p":6,"s":"ISO","t":9.6,"v":94},{"p":6,"s":"ISO","t":9.77,"v":94},{"p":6,"s":"ISO","t":9.95,"v":94},{"p":6,"s":"ISO","t":10.11,"v":94},{"p":6,"s":"ISO","t":10.26,"v":93},{"p":6,"s":"ISO","t":10.39,"v":77},{"p":6,"s":"ISO","t":10.52,"v":36},
      {"p":6,"s":"ISO","t":10.69,"v":19},{"p":6,"s":"ISO","t":10.9,"v":12},{"p":6,"s":"ISO","t":11.1,"v":3},{"p":6,"s":"ISO","t":11.3,"v":1},
      {"p":6,"s":"APIN","t":8.1,"v":1},{"p":6,"s":"APIN","t":8.23,"v":15},{"p":6,"s":"APIN","t":8.41,"v":55},{"p":6,"s":"APIN","t":8.59,"v":53},{"p":6,"s":"APIN","t":8.75,"v":56},{"p":6,"s":"APIN","t":8.9,"v":54},{"p":6,"s":"APIN","t":9.08,"v":53},{"p":6,"s":"APIN","t":9.26,"v":53},
      {"p":6,"s":"APIN","t":9.43,"v":52},{"p":6,"s":"APIN","t":9.6,"v":52},{"p":6,"s":"APIN","t":9.77,"v":52},{"p":6,"s":"APIN","t":9.95,"v":53},{"p":6,"s":"APIN","t":10.11,"v":52},{"p":6,"s":"APIN","t":10.26,"v":51},{"p":6,"s":"APIN","t":10.41,"v":48},{"p":6,"s":"APIN","t":10.56,"v":28.5},
      {"p":6,"s":"APIN","t":10.72,"v":19.4},{"p":6,"s":"APIN","t":10.88,"v":14},{"p":6,"s":"APIN","t":11.03,"v":11},{"p":6,"s":"APIN","t":11.2,"v":9},{"p":6,"s":"APIN","t":11.39,"v":6.4},{"p":6,"s":"APIN","t":11.56,"v":5.8},{"p":6,"s":"APIN","t":11.72,"v":5},{"p":6,"s":"APIN","t":11.9,"v":5},
      {"p":6,"s":"APIN","t":12.08,"v":5},{"p":6,"s":"APIN","t":12.23,"v":4.2},{"p":6,"s":"APIN","t":12.4,"v":4.2},{"p":6,"s":"APIN","t":12.6,"v":1},
      {"p":6,"s":"LIM","t":6.9,"v":2},{"p":6,"s":"LIM","t":7.07,"v":2},{"p":6,"s":"LIM","t":7.25,"v":2},{"p":6,"s":"LIM","t":7.42,"v":2},{"p":6,"s":"LIM","t":7.6,"v":2},{"p":6,"s":"LIM","t":7.77,"v":2},{"p":6,"s":"LIM","t":7.95,"v":2},{"p":6,"s":"LIM","t":8.1,"v":2},
      {"p":6,"s":"LIM","t":8.25,"v":9.4},{"p":6,"s":"LIM","t":8.41,"v":62},{"p":6,"s":"LIM","t":8.59,"v":59},{"p":6,"s":"LIM","t":8.75,"v":52},{"p":6,"s":"LIM","t":8.92,"v":50},{"p":6,"s":"LIM","t":9.08,"v":50},{"p":6,"s":"LIM","t":9.26,"v":50},{"p":6,"s":"LIM","t":9.43,"v":55},
      {"p":6,"s":"LIM","t":9.6,"v":54},{"p":6,"s":"LIM","t":9.77,"v":54},{"p":6,"s":"LIM","t":9.95,"v":53},{"p":6,"s":"LIM","t":10.11,"v":53},{"p":6,"s":"LIM","t":10.26,"v":52},{"p":6,"s":"LIM","t":10.41,"v":37.6},{"p":6,"s":"LIM","t":10.57,"v":8.8},{"p":6,"s":"LIM","t":10.72,"v":2},
      {"p":6,"s":"LIM","t":10.9,"v":1.5},{"p":6,"s":"LIM","t":11.07,"v":1.5},{"p":6,"s":"LIM","t":11.24,"v":1.5},{"p":6,"s":"LIM","t":11.41,"v":1.5},{"p":6,"s":"LIM","t":11.58,"v":1.5},{"p":6,"s":"LIM","t":11.75,"v":1.5},{"p":6,"s":"LIM","t":11.92,"v":1.5},{"p":6,"s":"LIM","t":12.09,"v":1.5},
      {"p":6,"s":"LIM","t":12.26,"v":1.5},{"p":6,"s":"LIM","t":12.43,"v":1.5},{"p":6,"s":"LIM","t":12.6,"v":1.5},{"p":6,"s":"LIM","t":12.77,"v":1.5},{"p":6,"s":"LIM","t":12.94,"v":1.5},{"p":6,"s":"LIM","t":13.11,"v":1.5},{"p":6,"s":"LIM","t":13.28,"v":1.5},{"p":6,"s":"LIM","t":13.45,"v":1.5},
      {"p":6,"s":"LIM","t":13.62,"v":1.5},{"p":6,"s":"LIM","t":13.79,"v":1.5},{"p":6,"s":"LIM","t":13.96,"v":1.5},{"p":6,"s":"LIM","t":14.13,"v":1.5},{"p":6,"s":"LIM","t":14.3,"v":1.5},{"p":6,"s":"LIM","t":14.47,"v":1.5},{"p":6,"s":"LIM","t":14.64,"v":1.5},{"p":6,"s":"LIM","t":14.81,"v":1.5},
      {"p":6,"s":"LIM","t":14.98,"v":1.5},{"p":6,"s":"LIM","t":15.15,"v":1.5},{"p":6,"s":"LIM","t":15.32,"v":1.5},

      {"p":7,"s":"ISO","t":8.9,"v":1},{"p":7,"s":"ISO","t":9.37,"v":28},{"p":7,"s":"ISO","t":9.47,"v":96},{"p":7,"s":"ISO","t":9.63,"v":96},{"p":7,"s":"ISO","t":9.78,"v":95},{"p":7,"s":"ISO","t":9.94,"v":94},{"p":7,"s":"ISO","t":10.09,"v":93},{"p":7,"s":"ISO","t":10.24,"v":93},
      {"p":7,"s":"ISO","t":10.4,"v":92},{"p":7,"s":"ISO","t":10.55,"v":93},{"p":7,"s":"ISO","t":10.76,"v":93},{"p":7,"s":"ISO","t":10.93,"v":90.6},{"p":7,"s":"ISO","t":11.07,"v":58},{"p":7,"s":"ISO","t":11.27,"v":34},{"p":7,"s":"ISO","t":11.42,"v":21.7},{"p":7,"s":"ISO","t":11.58,"v":14},
      {"p":7,"s":"ISO","t":11.73,"v":9.7},{"p":7,"s":"ISO","t":11.89,"v":6.6},{"p":7,"s":"ISO","t":12.04,"v":5},{"p":7,"s":"ISO","t":12.35,"v":3.6},{"p":7,"s":"ISO","t":12.6,"v":3},
      {"p":7,"s":"APIN","t":8.8,"v":1},{"p":7,"s":"APIN","t":8.91,"v":11},{"p":7,"s":"APIN","t":8.98,"v":46},{"p":7,"s":"APIN","t":9.11,"v":65.5},{"p":7,"s":"APIN","t":9.27,"v":65.5},{"p":7,"s":"APIN","t":9.42,"v":64.6},{"p":7,"s":"APIN","t":9.58,"v":64},{"p":7,"s":"APIN","t":9.73,"v":64},
      {"p":7,"s":"APIN","t":9.88,"v":63.4},{"p":7,"s":"APIN","t":10.04,"v":63.4},{"p":7,"s":"APIN","t":10.19,"v":63.4},{"p":7,"s":"APIN","t":10.35,"v":63.4},{"p":7,"s":"APIN","t":10.5,"v":63.4},{"p":7,"s":"APIN","t":10.65,"v":62.5},{"p":7,"s":"APIN","t":10.81,"v":64},{"p":7,"s":"APIN","t":10.93,"v":61.6},
      {"p":7,"s":"APIN","t":11.1,"v":47},{"p":7,"s":"APIN","t":11.27,"v":29},{"p":7,"s":"APIN","t":11.42,"v":20},{"p":7,"s":"APIN","t":11.58,"v":14},{"p":7,"s":"APIN","t":11.78,"v":9.7},{"p":7,"s":"APIN","t":11.99,"v":6.6},{"p":7,"s":"APIN","t":12.2,"v":5},{"p":7,"s":"APIN","t":12.4,"v":3.6},
      {"p":7,"s":"APIN","t":12.6,"v":2},
      {"p":7,"s":"LIM","t":8.03,"v":1.2},{"p":7,"s":"LIM","t":8.13,"v":1.2},{"p":7,"s":"LIM","t":8.23,"v":1.2},{"p":7,"s":"LIM","t":8.33,"v":1.2},{"p":7,"s":"LIM","t":8.43,"v":1.2},{"p":7,"s":"LIM","t":8.53,"v":1.2},{"p":7,"s":"LIM","t":8.63,"v":1.2},{"p":7,"s":"LIM","t":8.73,"v":1.2},
      {"p":7,"s":"LIM","t":8.83,"v":1.2},{"p":7,"s":"LIM","t":8.93,"v":1.2},{"p":7,"s":"LIM","t":9.03,"v":1.2},{"p":7,"s":"LIM","t":9.13,"v":1.2},{"p":7,"s":"LIM","t":9.27,"v":32},{"p":7,"s":"LIM","t":9.37,"v":53.4},{"p":7,"s":"LIM","t":9.58,"v":58},{"p":7,"s":"LIM","t":9.68,"v":56},
      {"p":7,"s":"LIM","t":9.78,"v":55},{"p":7,"s":"LIM","t":9.94,"v":53.4},{"p":7,"s":"LIM","t":10.09,"v":50},{"p":7,"s":"LIM","t":10.24,"v":49.5},{"p":7,"s":"LIM","t":10.4,"v":49},{"p":7,"s":"LIM","t":10.58,"v":49.5},{"p":7,"s":"LIM","t":10.76,"v":49},{"p":7,"s":"LIM","t":10.93,"v":48.3},
      {"p":7,"s":"LIM","t":11.1,"v":12.7},{"p":7,"s":"LIM","t":11.27,"v":1.2},{"p":7,"s":"LIM","t":11.45,"v":1.2},{"p":7,"s":"LIM","t":11.65,"v":1.2},{"p":7,"s":"LIM","t":11.85,"v":1.2},{"p":7,"s":"LIM","t":12.05,"v":1.2},{"p":7,"s":"LIM","t":12.25,"v":1.2},{"p":7,"s":"LIM","t":12.45,"v":1.2},
      {"p":7,"s":"LIM","t":12.65,"v":1.2},{"p":7,"s":"LIM","t":12.85,"v":1.2},{"p":7,"s":"LIM","t":13.05,"v":1.2},{"p":7,"s":"LIM","t":13.25,"v":1.2},{"p":7,"s":"LIM","t":13.45,"v":1.2},{"p":7,"s":"LIM","t":13.65,"v":1.2},{"p":7,"s":"LIM","t":13.85,"v":1.2},{"p":7,"s":"LIM","t":14.05,"v":1.2},
      {"p":7,"s":"LIM","t":14.25,"v":1.2},{"p":7,"s":"LIM","t":14.45,"v":1.2},{"p":7,"s":"LIM","t":14.65,"v":1.2},{"p":7,"s":"LIM","t":14.85,"v":1.2},{"p":7,"s":"LIM","t":15.05,"v":1.2},{"p":7,"s":"LIM","t":15.25,"v":1.2},{"p":7,"s":"LIM","t":15.45,"v":1.2},{"p":7,"s":"LIM","t":15.65,"v":1.2},
      {"p":7,"s":"LIM","t":15.85,"v":1.2},{"p":7,"s":"LIM","t":16.05,"v":1.2},{"p":7,"s":"LIM","t":16.2,"v":1.2},

      {"p":8,"s":"APIN","t":11.39,"v":6.6},{"p":8,"s":"APIN","t":12.01,"v":2},
      {"p":8,"s":"LIM","t":8.62,"v":1.2},{"p":8,"s":"LIM","t":9.44,"v":1.2},{"p":8,"s":"LIM","t":10.09,"v":63.4},{"p":8,"s":"LIM","t":10.76,"v":65},{"p":8,"s":"LIM","t":11.41,"v":4.2},{"p":8,"s":"LIM","t":12.06,"v":2},{"p":8,"s":"LIM","t":12.73,"v":1.2},{"p":8,"s":"LIM","t":13.4,"v":1.2},
      {"p":8,"s":"LIM","t":14.07,"v":1.2},{"p":8,"s":"LIM","t":14.73,"v":1.2},{"p":8,"s":"LIM","t":15.4,"v":1.2},{"p":8,"s":"LIM","t":16.07,"v":1.2},{"p":8,"s":"LIM","t":16.72,"v":1.2},{"p":8,"s":"LIM","t":17.38,"v":1.2}
    ]
  },
  "columns": 2,
  "spacing": {"row": 23, "column": 44},
  "resolve": {"scale": {"color": "independent", "shape": "independent", "fill": "independent", "stroke": "independent", "strokeDash": "independent"}},
  "concat": [
    {
      "width": 657, "height": 521,
      "title": "20091116 - SOA and PARENT VOCs",
      "layer": [
        {"layer": [
          {"data": {"name": "soa"}, "transform": [{"filter": "datum.p == 1"}], "mark": {"type": "area", "color": "#9a9a9a", "opacity": 1},
           "encoding": {"x": {"field": "t", "type": "quantitative", "scale": {"domain": [6, 18], "nice": false}, "axis": {"values": [6, 9, 12, 15, 18], "labelExpr": "datum.value + ':00'", "title": null, "grid": true, "gridDash": [2, 9]}},
             "y": {"field": "lo", "type": "quantitative", "scale": {"domain": [0, 400], "nice": false}, "title": "SOA concentration (µg/m³)", "axis": {"values": [0, 100, 200, 300, 400], "grid": true, "gridDash": [2, 9]}}, "y2": {"field": "hi"}}},
          {"data": {"name": "soa"}, "transform": [{"filter": "datum.p == 1"}], "mark": {"type": "rule", "color": "#3a3a3a", "strokeWidth": 1},
           "encoding": {"x": {"field": "t", "type": "quantitative"}, "y": {"field": "lo", "type": "quantitative", "title": "SOA concentration (µg/m³)"}, "y2": {"field": "hi"}}},
          {"data": {"name": "soa"}, "transform": [{"filter": "datum.p == 1"}], "mark": {"type": "line", "color": "#000", "strokeWidth": 2.5},
           "encoding": {"x": {"field": "t", "type": "quantitative"}, "y": {"field": "hi", "type": "quantitative", "title": "SOA concentration (µg/m³)"}}},
          {"data": {"name": "soa"}, "transform": [{"filter": "datum.p == 1"}], "mark": {"type": "line", "color": "#000", "strokeWidth": 2.5},
           "encoding": {"x": {"field": "t", "type": "quantitative"}, "y": {"field": "lo", "type": "quantitative", "title": "SOA concentration (µg/m³)"}}},
          {"data": {"name": "inj"}, "transform": [{"filter": "datum.p == 1"}], "mark": {"type": "rule", "color": "#000", "strokeWidth": 2, "strokeDash": [2, 1.5]},
           "encoding": {"x": {"field": "t", "type": "quantitative"}, "y": {"datum": 0, "type": "quantitative", "title": "SOA concentration (µg/m³)"}, "y2": {"datum": 300}}},
          {"data": {"name": "soa"}, "transform": [{"filter": "datum.p == 1"}], "mark": {"type": "line", "color": "#000", "strokeWidth": 3.5},
           "encoding": {"x": {"field": "t", "type": "quantitative"}, "y": {"field": "m", "type": "quantitative", "title": "SOA concentration (µg/m³)"},
             "strokeDash": {"datum": "SOA", "scale": {"range": [[1, 0]]}, "legend": {"title": null, "legendX": 252, "legendY": 48, "symbolType": "stroke"}}}}
        ]},
        {"layer": [
          {"data": {"name": "voc"}, "transform": [{"filter": "datum.p == 1"}], "mark": {"type": "line", "strokeWidth": 1},
           "encoding": {"x": {"field": "t", "type": "quantitative"},
             "y": {"field": "v", "type": "quantitative", "scale": {"domain": [0, 400], "nice": false}, "title": "VOCs concentration (ppb)", "axis": {"orient": "right", "values": [0, 100, 200, 300, 400], "grid": false}},
             "color": {"field": "s", "type": "nominal", "scale": {"domain": ["TMB", "OCT", "OXYL", "TOL"], "range": ["#333", "#333", "#222", "#555"]}, "legend": null}}},
          {"data": {"name": "voc"}, "transform": [{"filter": "datum.p == 1"}], "mark": {"type": "point", "size": 40, "strokeWidth": 1, "opacity": 1},
           "encoding": {"x": {"field": "t", "type": "quantitative"}, "y": {"field": "v", "type": "quantitative", "title": "VOCs concentration (ppb)"},
             "shape": {"field": "s", "type": "nominal", "scale": {"domain": ["TMB", "OCT", "OXYL", "TOL"], "range": ["circle", "triangle-down", "circle", "M-1,0H1M0,-1V1M-0.7,-0.7L0.7,0.7M-0.7,0.7L0.7,-0.7"]}, "legend": null},
             "fill": {"field": "s", "type": "nominal", "scale": {"domain": ["TMB", "OCT", "OXYL", "TOL"], "range": ["#fff", "#111", "#000", "transparent"]}, "legend": null},
             "stroke": {"field": "s", "type": "nominal", "scale": {"domain": ["TMB", "OCT", "OXYL", "TOL"], "range": ["#333", "#111", "#000", "#666"]}, "legend": null}}},
          {"data": {"name": "voc"}, "transform": [{"filter": "datum.p == 0"}], "mark": {"type": "point", "stroke": "#000", "strokeWidth": 2, "opacity": 1},
           "encoding": {"x": {"field": "t", "type": "quantitative"}, "y": {"field": "v", "type": "quantitative", "title": "VOCs concentration (ppb)"},
             "shape": {"field": "s", "type": "nominal", "scale": {"domain": ["TMB", "OCT", "OXYL", "TOL"], "range": ["M-1,0H-0.13M0.13,0H1M-0.13,0A0.13,0.13,0,1,1,0.13,0A0.13,0.13,0,1,1,-0.13,0Z", "M-1,0H1M-0.15,-0.1L0.15,-0.1L0,0.16Z", "M-1,0H-0.13M0.13,0H1M-0.13,0A0.13,0.13,0,1,1,0.13,0A0.13,0.13,0,1,1,-0.13,0Z", "M-1,0H1M-0.1,-0.1L0.1,0.1M-0.1,0.1L0.1,-0.1M0,-0.14V0.14"]}, "legend": {"title": null, "legendX": 16, "legendY": 4, "columns": 4}},
             "fill": {"field": "s", "type": "nominal", "scale": {"domain": ["TMB", "OCT", "OXYL", "TOL"], "range": ["#fff", "#888", "#000", "transparent"]}, "legend": {"title": null, "legendX": 16, "legendY": 4, "columns": 4}}}}
        ], "resolve": {"scale": {"shape": "independent", "fill": "independent"}}}
      ],
      "resolve": {"scale": {"y": "independent"}}
    },
    {
      "width": 657, "height": 521,
      "title": "20100608 - SOA and PARENT VOCs",
      "layer": [
        {"layer": [
          {"data": {"name": "soa"}, "transform": [{"filter": "datum.p == 2"}], "mark": {"type": "area", "color": "#ececec", "opacity": 1},
           "encoding": {"x": {"field": "t", "type": "quantitative", "scale": {"domain": [6, 18], "nice": false}, "axis": {"values": [6, 9, 12, 15, 18], "labelExpr": "datum.value + ':00'", "title": null, "grid": true}},
             "y": {"field": "lo", "type": "quantitative", "scale": {"domain": [0, 400], "nice": false}, "title": "SOA concentration (µg/m³)", "axis": {"values": [0, 100, 200, 300, 400], "grid": true}}, "y2": {"field": "hi"}, "detail": {"field": "g"}}},
          {"data": {"name": "soa"}, "transform": [{"filter": "datum.p == 2"}], "mark": {"type": "rule", "color": "#d4d4d4", "strokeWidth": 1},
           "encoding": {"x": {"field": "t", "type": "quantitative"}, "y": {"field": "lo", "type": "quantitative", "title": "SOA concentration (µg/m³)"}, "y2": {"field": "hi"}}},
          {"data": {"name": "inj"}, "transform": [{"filter": "datum.p == 2"}], "mark": {"type": "rule", "color": "#808080", "strokeWidth": 6},
           "encoding": {"x": {"field": "t", "type": "quantitative"}, "y": {"datum": 0, "type": "quantitative", "title": "SOA concentration (µg/m³)"}, "y2": {"datum": 300}}},
          {"data": {"name": "soa"}, "transform": [{"filter": "datum.p == 2"}], "mark": {"type": "line", "color": "#a8a8a8", "strokeWidth": 1.5},
           "encoding": {"x": {"field": "t", "type": "quantitative"}, "y": {"field": "m", "type": "quantitative", "title": "SOA concentration (µg/m³)"}, "detail": {"field": "g"},
             "strokeDash": {"datum": "SOA", "scale": {"range": [[1, 0]]}, "legend": {"title": null, "legendX": 250, "legendY": 48, "symbolType": "stroke"}}}},
          {"data": {"name": "soa"}, "transform": [{"filter": "datum.p == 2"}], "mark": {"type": "point", "shape": "circle", "size": 30, "fill": "#fff", "stroke": "#9a9a9a", "strokeWidth": 1, "opacity": 1},
           "encoding": {"x": {"field": "t", "type": "quantitative"}, "y": {"field": "m", "type": "quantitative", "title": "SOA concentration (µg/m³)"}}}
        ]},
        {"layer": [
          {"data": {"name": "voc"}, "transform": [{"filter": "datum.p == 2"}], "mark": {"type": "line", "strokeWidth": 0.8},
           "encoding": {"x": {"field": "t", "type": "quantitative"},
             "y": {"field": "v", "type": "quantitative", "scale": {"domain": [0, 400], "nice": false}, "title": "VOCs concentration (ppb)", "axis": {"orient": "right", "values": [0, 100, 200, 300, 400], "grid": false, "labelPadding": 6, "titlePadding": 10}},
             "color": {"field": "s", "type": "nominal", "scale": {"domain": ["TMB", "OCT", "OXYL", "TOL"], "range": ["#aaa", "#aaa", "#aaa", "#aaa"]}, "legend": null}}},
          {"data": {"name": "voc"}, "transform": [{"filter": "datum.p == 2"}], "mark": {"type": "point", "size": 80, "strokeWidth": 1, "opacity": 1},
           "encoding": {"x": {"field": "t", "type": "quantitative"}, "y": {"field": "v", "type": "quantitative", "title": "VOCs concentration (ppb)"},
             "shape": {"field": "s", "type": "nominal", "scale": {"domain": ["TMB", "OCT", "OXYL", "TOL"], "range": ["circle", "triangle-down", "circle", "M-1,0H1M0,-1V1M-0.7,-0.7L0.7,0.7M-0.7,0.7L0.7,-0.7"]}, "legend": null},
             "fill": {"field": "s", "type": "nominal", "scale": {"domain": ["TMB", "OCT", "OXYL", "TOL"], "range": ["#fff", "#888", "#000", "transparent"]}, "legend": null},
             "stroke": {"field": "s", "type": "nominal", "scale": {"domain": ["TMB", "OCT", "OXYL", "TOL"], "range": ["#aaa", "#888", "#000", "#999"]}, "legend": null}}},
          {"data": {"name": "voc"}, "transform": [{"filter": "datum.p == 0"}], "mark": {"type": "point", "stroke": "#000", "strokeWidth": 2, "opacity": 1},
           "encoding": {"x": {"field": "t", "type": "quantitative"}, "y": {"field": "v", "type": "quantitative", "title": "VOCs concentration (ppb)"},
             "shape": {"field": "s", "type": "nominal", "scale": {"domain": ["TMB", "OCT", "OXYL", "TOL"], "range": ["M-1,0H-0.13M0.13,0H1M-0.13,0A0.13,0.13,0,1,1,0.13,0A0.13,0.13,0,1,1,-0.13,0Z", "M-1,0H1M-0.15,-0.1L0.15,-0.1L0,0.16Z", "M-1,0H-0.13M0.13,0H1M-0.13,0A0.13,0.13,0,1,1,0.13,0A0.13,0.13,0,1,1,-0.13,0Z", "M-1,0H1M-0.1,-0.1L0.1,0.1M-0.1,0.1L0.1,-0.1M0,-0.14V0.14"]}, "legend": {"title": null, "legendX": 16, "legendY": 4, "columns": 4}},
             "fill": {"field": "s", "type": "nominal", "scale": {"domain": ["TMB", "OCT", "OXYL", "TOL"], "range": ["#fff", "#888", "#000", "transparent"]}, "legend": {"title": null, "legendX": 16, "legendY": 4, "columns": 4}}}}
        ], "resolve": {"scale": {"shape": "independent", "fill": "independent"}}}
      ],
      "resolve": {"scale": {"y": "independent"}}
    },
    {
      "width": 657, "height": 521,
      "title": "20110616 - SOA and PARENT VOCs",
      "layer": [
        {"layer": [
          {"data": {"name": "soa"}, "transform": [{"filter": "datum.p == 3"}], "mark": {"type": "area", "color": "#ececec", "opacity": 1},
           "encoding": {"x": {"field": "t", "type": "quantitative", "scale": {"domain": [6, 18], "nice": false}, "axis": {"values": [6, 9, 12, 15, 18], "labelExpr": "datum.value + ':00'", "title": null, "grid": true}},
             "y": {"field": "lo", "type": "quantitative", "scale": {"domain": [0, 400], "nice": false}, "title": "SOA concentration (µg/m³)", "axis": {"values": [0, 100, 200, 300, 400], "grid": true}}, "y2": {"field": "hi"}}},
          {"data": {"name": "soa"}, "transform": [{"filter": "datum.p == 3"}], "mark": {"type": "rule", "color": "#d4d4d4", "strokeWidth": 1},
           "encoding": {"x": {"field": "t", "type": "quantitative"}, "y": {"field": "lo", "type": "quantitative", "title": "SOA concentration (µg/m³)"}, "y2": {"field": "hi"}}},
          {"data": {"name": "inj"}, "transform": [{"filter": "datum.p == 3"}], "mark": {"type": "rule", "color": "#808080", "strokeWidth": 6},
           "encoding": {"x": {"field": "t", "type": "quantitative"}, "y": {"datum": 0, "type": "quantitative", "title": "SOA concentration (µg/m³)"}, "y2": {"datum": 300}}},
          {"data": {"name": "soa"}, "transform": [{"filter": "datum.p == 3"}], "mark": {"type": "line", "color": "#a8a8a8", "strokeWidth": 1.5},
           "encoding": {"x": {"field": "t", "type": "quantitative"}, "y": {"field": "m", "type": "quantitative", "title": "SOA concentration (µg/m³)"},
             "strokeDash": {"datum": "SOA", "scale": {"range": [[1, 0]]}, "legend": {"title": null, "legendX": 249, "legendY": 46, "symbolType": "stroke"}}}},
          {"data": {"name": "soa"}, "transform": [{"filter": "datum.p == 3"}], "mark": {"type": "point", "shape": "circle", "size": 30, "fill": "#fff", "stroke": "#9a9a9a", "strokeWidth": 1, "opacity": 1},
           "encoding": {"x": {"field": "t", "type": "quantitative"}, "y": {"field": "m", "type": "quantitative", "title": "SOA concentration (µg/m³)"}}}
        ]},
        {"layer": [
          {"data": {"name": "voc"}, "transform": [{"filter": "datum.p == 3"}], "mark": {"type": "line", "strokeWidth": 0.8},
           "encoding": {"x": {"field": "t", "type": "quantitative"},
             "y": {"field": "v", "type": "quantitative", "scale": {"domain": [0, 400], "nice": false}, "title": "VOCs concentration (ppb)", "axis": {"orient": "right", "values": [0, 100, 200, 300, 400], "grid": false}},
             "color": {"field": "s", "type": "nominal", "scale": {"domain": ["TMB", "OCT", "OXYL", "TOL"], "range": ["#aaa", "#aaa", "#aaa", "#aaa"]}, "legend": null}}},
          {"data": {"name": "voc"}, "transform": [{"filter": "datum.p == 3"}], "mark": {"type": "point", "size": 80, "strokeWidth": 1, "opacity": 1},
           "encoding": {"x": {"field": "t", "type": "quantitative"}, "y": {"field": "v", "type": "quantitative", "title": "VOCs concentration (ppb)"},
             "shape": {"field": "s", "type": "nominal", "scale": {"domain": ["TMB", "OCT", "OXYL", "TOL"], "range": ["circle", "triangle-down", "circle", "M-1,0H1M0,-1V1M-0.7,-0.7L0.7,0.7M-0.7,0.7L0.7,-0.7"]}, "legend": null},
             "fill": {"field": "s", "type": "nominal", "scale": {"domain": ["TMB", "OCT", "OXYL", "TOL"], "range": ["#fff", "#888", "#000", "transparent"]}, "legend": null},
             "stroke": {"field": "s", "type": "nominal", "scale": {"domain": ["TMB", "OCT", "OXYL", "TOL"], "range": ["#aaa", "#888", "#000", "#999"]}, "legend": null}}},
          {"data": {"name": "voc"}, "transform": [{"filter": "datum.p == 0"}], "mark": {"type": "point", "stroke": "#000", "strokeWidth": 2, "opacity": 1},
           "encoding": {"x": {"field": "t", "type": "quantitative"}, "y": {"field": "v", "type": "quantitative", "title": "VOCs concentration (ppb)"},
             "shape": {"field": "s", "type": "nominal", "scale": {"domain": ["TMB", "OCT", "OXYL", "TOL"], "range": ["M-1,0H-0.13M0.13,0H1M-0.13,0A0.13,0.13,0,1,1,0.13,0A0.13,0.13,0,1,1,-0.13,0Z", "M-1,0H1M-0.15,-0.1L0.15,-0.1L0,0.16Z", "M-1,0H-0.13M0.13,0H1M-0.13,0A0.13,0.13,0,1,1,0.13,0A0.13,0.13,0,1,1,-0.13,0Z", "M-1,0H1M-0.1,-0.1L0.1,0.1M-0.1,0.1L0.1,-0.1M0,-0.14V0.14"]}, "legend": {"title": null, "legendX": 17, "legendY": 2, "columns": 4}},
             "fill": {"field": "s", "type": "nominal", "scale": {"domain": ["TMB", "OCT", "OXYL", "TOL"], "range": ["#fff", "#888", "#000", "transparent"]}, "legend": {"title": null, "legendX": 17, "legendY": 2, "columns": 4}}}}
        ], "resolve": {"scale": {"shape": "independent", "fill": "independent"}}}
      ],
      "resolve": {"scale": {"y": "independent"}}
    },
    {
      "width": 657, "height": 521,
      "title": "20090624 - SOA and PARENT VOCs",
      "layer": [
        {"layer": [
          {"data": {"name": "soa"}, "transform": [{"filter": "datum.p == 4"}], "mark": {"type": "area", "color": "#ececec", "opacity": 1},
           "encoding": {"x": {"field": "t", "type": "quantitative", "scale": {"domain": [6, 18], "nice": false}, "axis": {"values": [6, 9, 12, 15, 18], "labelExpr": "datum.value + ':00'", "title": null, "grid": true}},
             "y": {"field": "lo", "type": "quantitative", "scale": {"domain": [0, 400], "nice": false}, "title": "SOA concentration (µg/m³)", "axis": {"values": [0, 100, 200, 300, 400], "grid": true}}, "y2": {"field": "hi"}}},
          {"data": {"name": "soa"}, "transform": [{"filter": "datum.p == 4"}], "mark": {"type": "rule", "color": "#d4d4d4", "strokeWidth": 1},
           "encoding": {"x": {"field": "t", "type": "quantitative"}, "y": {"field": "lo", "type": "quantitative", "title": "SOA concentration (µg/m³)"}, "y2": {"field": "hi"}}},
          {"data": {"name": "inj"}, "transform": [{"filter": "datum.p == 4"}], "mark": {"type": "rule", "color": "#808080", "strokeWidth": 6},
           "encoding": {"x": {"field": "t", "type": "quantitative"}, "y": {"datum": 0, "type": "quantitative", "title": "SOA concentration (µg/m³)"}, "y2": {"datum": 300}}},
          {"data": {"name": "soa"}, "transform": [{"filter": "datum.p == 4"}], "mark": {"type": "line", "color": "#a8a8a8", "strokeWidth": 1.5},
           "encoding": {"x": {"field": "t", "type": "quantitative"}, "y": {"field": "m", "type": "quantitative", "title": "SOA concentration (µg/m³)"},
             "strokeDash": {"datum": "SOA", "scale": {"range": [[1, 0]]}, "legend": {"title": null, "legendX": 251, "legendY": 46, "symbolType": "stroke"}}}},
          {"data": {"name": "soa"}, "transform": [{"filter": "datum.p == 4"}], "mark": {"type": "point", "shape": "circle", "size": 30, "fill": "#fff", "stroke": "#9a9a9a", "strokeWidth": 1, "opacity": 1},
           "encoding": {"x": {"field": "t", "type": "quantitative"}, "y": {"field": "m", "type": "quantitative", "title": "SOA concentration (µg/m³)"}}}
        ]},
        {"layer": [
          {"data": {"name": "voc"}, "transform": [{"filter": "datum.p == 4"}], "mark": {"type": "line", "strokeWidth": 0.8},
           "encoding": {"x": {"field": "t", "type": "quantitative"},
             "y": {"field": "v", "type": "quantitative", "scale": {"domain": [0, 400], "nice": false}, "title": "VOCs concentration (ppb)", "axis": {"orient": "right", "values": [0, 100, 200, 300, 400], "grid": false, "labelPadding": 6, "titlePadding": 10}},
             "color": {"field": "s", "type": "nominal", "scale": {"domain": ["ISO", "APIN", "LIM"], "range": ["#aaa", "#aaa", "#aaa"]}, "legend": null}}},
          {"data": {"name": "voc"}, "transform": [{"filter": "datum.p == 4"}], "mark": {"type": "point", "size": 65, "strokeWidth": 1, "opacity": 1},
           "encoding": {"x": {"field": "t", "type": "quantitative"}, "y": {"field": "v", "type": "quantitative", "title": "VOCs concentration (ppb)"},
             "shape": {"field": "s", "type": "nominal", "scale": {"domain": ["ISO", "APIN", "LIM"], "range": ["circle", "triangle-down", "circle"]}, "legend": null},
             "fill": {"field": "s", "type": "nominal", "scale": {"domain": ["ISO", "APIN", "LIM"], "range": ["#fff", "#888", "#000"]}, "legend": null},
             "stroke": {"field": "s", "type": "nominal", "scale": {"domain": ["ISO", "APIN", "LIM"], "range": ["#aaa", "#888", "#000"]}, "legend": null}}},
          {"data": {"name": "voc"}, "transform": [{"filter": "datum.p == 0"}], "mark": {"type": "point", "stroke": "#000", "strokeWidth": 2, "opacity": 1},
           "encoding": {"x": {"field": "t", "type": "quantitative"}, "y": {"field": "v", "type": "quantitative", "title": "VOCs concentration (ppb)"},
             "shape": {"field": "s", "type": "nominal", "scale": {"domain": ["ISO", "APIN", "LIM"], "range": ["M-1,0H-0.13M0.13,0H1M-0.13,0A0.13,0.13,0,1,1,0.13,0A0.13,0.13,0,1,1,-0.13,0Z", "M-1,0H1M-0.15,-0.1L0.15,-0.1L0,0.16Z", "M-1,0H-0.13M0.13,0H1M-0.13,0A0.13,0.13,0,1,1,0.13,0A0.13,0.13,0,1,1,-0.13,0Z"]}, "legend": {"title": null, "legendX": 20, "legendY": 2, "columns": 4}},
             "fill": {"field": "s", "type": "nominal", "scale": {"domain": ["ISO", "APIN", "LIM"], "range": ["#fff", "#888", "#000"]}, "legend": {"title": null, "legendX": 20, "legendY": 2, "columns": 4}}}}
        ], "resolve": {"scale": {"shape": "independent", "fill": "independent"}}}
      ],
      "resolve": {"scale": {"y": "independent"}}
    },
    {
      "width": 657, "height": 521,
      "title": "20091005 - SOA and PARENT VOCs",
      "layer": [
        {"layer": [
          {"data": {"name": "soa"}, "transform": [{"filter": "datum.p == 5"}], "mark": {"type": "area", "color": "#ececec", "opacity": 1},
           "encoding": {"x": {"field": "t", "type": "quantitative", "scale": {"domain": [6, 18], "nice": false}, "axis": {"values": [6, 9, 12, 15, 18], "labelExpr": "datum.value + ':00'", "title": null, "grid": true}},
             "y": {"field": "lo", "type": "quantitative", "scale": {"domain": [0, 400], "nice": false}, "title": "SOA concentration (µg/m³)", "axis": {"values": [0, 100, 200, 300, 400], "grid": true}}, "y2": {"field": "hi"}}},
          {"data": {"name": "soa"}, "transform": [{"filter": "datum.p == 5"}], "mark": {"type": "rule", "color": "#d4d4d4", "strokeWidth": 1},
           "encoding": {"x": {"field": "t", "type": "quantitative"}, "y": {"field": "lo", "type": "quantitative", "title": "SOA concentration (µg/m³)"}, "y2": {"field": "hi"}}},
          {"data": {"name": "inj"}, "transform": [{"filter": "datum.p == 5"}], "mark": {"type": "rule", "color": "#808080", "strokeWidth": 6},
           "encoding": {"x": {"field": "t", "type": "quantitative"}, "y": {"datum": 0, "type": "quantitative", "title": "SOA concentration (µg/m³)"}, "y2": {"datum": 300}}},
          {"data": {"name": "soa"}, "transform": [{"filter": "datum.p == 5"}], "mark": {"type": "line", "color": "#a8a8a8", "strokeWidth": 1.5},
           "encoding": {"x": {"field": "t", "type": "quantitative"}, "y": {"field": "m", "type": "quantitative", "title": "SOA concentration (µg/m³)"},
             "strokeDash": {"datum": "SOA", "scale": {"range": [[1, 0]]}, "legend": {"title": null, "legendX": 250, "legendY": 47, "symbolType": "stroke"}}}},
          {"data": {"name": "soa"}, "transform": [{"filter": "datum.p == 5"}], "mark": {"type": "point", "shape": "circle", "size": 30, "fill": "#fff", "stroke": "#9a9a9a", "strokeWidth": 1, "opacity": 1},
           "encoding": {"x": {"field": "t", "type": "quantitative"}, "y": {"field": "m", "type": "quantitative", "title": "SOA concentration (µg/m³)"}}}
        ]},
        {"layer": [
          {"data": {"name": "voc"}, "transform": [{"filter": "datum.p == 5"}], "mark": {"type": "line", "strokeWidth": 0.8},
           "encoding": {"x": {"field": "t", "type": "quantitative"},
             "y": {"field": "v", "type": "quantitative", "scale": {"domain": [0, 400], "nice": false}, "title": "VOCs concentration (ppb)", "axis": {"orient": "right", "values": [0, 100, 200, 300, 400], "grid": false}},
             "color": {"field": "s", "type": "nominal", "scale": {"domain": ["ISO", "APIN", "LIM"], "range": ["#aaa", "#aaa", "#aaa"]}, "legend": null}}},
          {"data": {"name": "voc"}, "transform": [{"filter": "datum.p == 5"}], "mark": {"type": "point", "size": 80, "strokeWidth": 1, "opacity": 1},
           "encoding": {"x": {"field": "t", "type": "quantitative"}, "y": {"field": "v", "type": "quantitative", "title": "VOCs concentration (ppb)"},
             "shape": {"field": "s", "type": "nominal", "scale": {"domain": ["ISO", "APIN", "LIM"], "range": ["circle", "triangle-down", "circle"]}, "legend": null},
             "fill": {"field": "s", "type": "nominal", "scale": {"domain": ["ISO", "APIN", "LIM"], "range": ["#fff", "#888", "#000"]}, "legend": null},
             "stroke": {"field": "s", "type": "nominal", "scale": {"domain": ["ISO", "APIN", "LIM"], "range": ["#aaa", "#888", "#000"]}, "legend": null}}},
          {"data": {"name": "voc"}, "transform": [{"filter": "datum.p == 0"}], "mark": {"type": "point", "stroke": "#000", "strokeWidth": 2, "opacity": 1},
           "encoding": {"x": {"field": "t", "type": "quantitative"}, "y": {"field": "v", "type": "quantitative", "title": "VOCs concentration (ppb)"},
             "shape": {"field": "s", "type": "nominal", "scale": {"domain": ["ISO", "APIN", "LIM"], "range": ["M-1,0H-0.13M0.13,0H1M-0.13,0A0.13,0.13,0,1,1,0.13,0A0.13,0.13,0,1,1,-0.13,0Z", "M-1,0H1M-0.15,-0.1L0.15,-0.1L0,0.16Z", "M-1,0H-0.13M0.13,0H1M-0.13,0A0.13,0.13,0,1,1,0.13,0A0.13,0.13,0,1,1,-0.13,0Z"]}, "legend": {"title": null, "legendX": 20, "legendY": 2, "columns": 4}},
             "fill": {"field": "s", "type": "nominal", "scale": {"domain": ["ISO", "APIN", "LIM"], "range": ["#fff", "#888", "#000"]}, "legend": {"title": null, "legendX": 20, "legendY": 2, "columns": 4}}}}
        ], "resolve": {"scale": {"shape": "independent", "fill": "independent"}}}
      ],
      "resolve": {"scale": {"y": "independent"}}
    },
    {
      "width": 657, "height": 521,
      "title": "20091014 - SOA and PARENT VOCs",
      "layer": [
        {"layer": [
          {"data": {"name": "soa"}, "transform": [{"filter": "datum.p == 6"}], "mark": {"type": "area", "color": "#ececec", "opacity": 1},
           "encoding": {"x": {"field": "t", "type": "quantitative", "scale": {"domain": [6, 18], "nice": false}, "axis": {"values": [6, 9, 12, 15, 18], "labelExpr": "datum.value + ':00'", "title": null, "grid": true}},
             "y": {"field": "lo", "type": "quantitative", "scale": {"domain": [0, 400], "nice": false}, "title": "SOA concentration (µg/m³)", "axis": {"values": [0, 100, 200, 300, 400], "grid": true}}, "y2": {"field": "hi"}}},
          {"data": {"name": "soa"}, "transform": [{"filter": "datum.p == 6"}], "mark": {"type": "rule", "color": "#d4d4d4", "strokeWidth": 1},
           "encoding": {"x": {"field": "t", "type": "quantitative"}, "y": {"field": "lo", "type": "quantitative", "title": "SOA concentration (µg/m³)"}, "y2": {"field": "hi"}}},
          {"data": {"name": "inj"}, "transform": [{"filter": "datum.p == 6"}], "mark": {"type": "rule", "color": "#808080", "strokeWidth": 6},
           "encoding": {"x": {"field": "t", "type": "quantitative"}, "y": {"datum": 0, "type": "quantitative", "title": "SOA concentration (µg/m³)"}, "y2": {"datum": 300}}},
          {"data": {"name": "soa"}, "transform": [{"filter": "datum.p == 6"}], "mark": {"type": "line", "color": "#a8a8a8", "strokeWidth": 1.5},
           "encoding": {"x": {"field": "t", "type": "quantitative"}, "y": {"field": "m", "type": "quantitative", "title": "SOA concentration (µg/m³)"},
             "strokeDash": {"datum": "SOA", "scale": {"range": [[1, 0]]}, "legend": {"title": null, "legendX": 251, "legendY": 47, "symbolType": "stroke"}}}},
          {"data": {"name": "soa"}, "transform": [{"filter": "datum.p == 6"}], "mark": {"type": "point", "shape": "circle", "size": 30, "fill": "#fff", "stroke": "#9a9a9a", "strokeWidth": 1, "opacity": 1},
           "encoding": {"x": {"field": "t", "type": "quantitative"}, "y": {"field": "m", "type": "quantitative", "title": "SOA concentration (µg/m³)"}}}
        ]},
        {"layer": [
          {"data": {"name": "voc"}, "transform": [{"filter": "datum.p == 6"}], "mark": {"type": "line", "strokeWidth": 0.8},
           "encoding": {"x": {"field": "t", "type": "quantitative"},
             "y": {"field": "v", "type": "quantitative", "scale": {"domain": [0, 400], "nice": false}, "title": "VOCs concentration (ppb)", "axis": {"orient": "right", "values": [0, 100, 200, 300, 400], "grid": false, "labelPadding": 6, "titlePadding": 10}},
             "color": {"field": "s", "type": "nominal", "scale": {"domain": ["ISO", "APIN", "LIM"], "range": ["#aaa", "#aaa", "#aaa"]}, "legend": null}}},
          {"data": {"name": "voc"}, "transform": [{"filter": "datum.p == 6"}], "mark": {"type": "point", "size": 70, "strokeWidth": 1, "opacity": 1},
           "encoding": {"x": {"field": "t", "type": "quantitative"}, "y": {"field": "v", "type": "quantitative", "title": "VOCs concentration (ppb)"},
             "shape": {"field": "s", "type": "nominal", "scale": {"domain": ["ISO", "APIN", "LIM"], "range": ["circle", "triangle-down", "circle"]}, "legend": null},
             "fill": {"field": "s", "type": "nominal", "scale": {"domain": ["ISO", "APIN", "LIM"], "range": ["#fff", "#888", "#000"]}, "legend": null},
             "stroke": {"field": "s", "type": "nominal", "scale": {"domain": ["ISO", "APIN", "LIM"], "range": ["#aaa", "#888", "#000"]}, "legend": null}}},
          {"data": {"name": "voc"}, "transform": [{"filter": "datum.p == 0"}], "mark": {"type": "point", "stroke": "#000", "strokeWidth": 2, "opacity": 1},
           "encoding": {"x": {"field": "t", "type": "quantitative"}, "y": {"field": "v", "type": "quantitative", "title": "VOCs concentration (ppb)"},
             "shape": {"field": "s", "type": "nominal", "scale": {"domain": ["ISO", "APIN", "LIM"], "range": ["M-1,0H-0.13M0.13,0H1M-0.13,0A0.13,0.13,0,1,1,0.13,0A0.13,0.13,0,1,1,-0.13,0Z", "M-1,0H1M-0.15,-0.1L0.15,-0.1L0,0.16Z", "M-1,0H-0.13M0.13,0H1M-0.13,0A0.13,0.13,0,1,1,0.13,0A0.13,0.13,0,1,1,-0.13,0Z"]}, "legend": {"title": null, "legendX": 13, "legendY": 2, "columns": 4}},
             "fill": {"field": "s", "type": "nominal", "scale": {"domain": ["ISO", "APIN", "LIM"], "range": ["#fff", "#888", "#000"]}, "legend": {"title": null, "legendX": 13, "legendY": 2, "columns": 4}}}}
        ], "resolve": {"scale": {"shape": "independent", "fill": "independent"}}}
      ],
      "resolve": {"scale": {"y": "independent"}}
    },
    {
      "width": 657, "height": 521,
      "title": "20091026 - SOA and PARENT VOCs",
      "layer": [
        {"layer": [
          {"data": {"name": "soa"}, "transform": [{"filter": "datum.p == 7"}], "mark": {"type": "area", "color": "#ececec", "opacity": 1},
           "encoding": {"x": {"field": "t", "type": "quantitative", "scale": {"domain": [6, 18], "nice": false}, "axis": {"values": [6, 9, 12, 15, 18], "labelExpr": "datum.value + ':00'", "title": null, "grid": true}},
             "y": {"field": "lo", "type": "quantitative", "scale": {"domain": [0, 400], "nice": false}, "title": "SOA concentration (µg/m³)", "axis": {"values": [0, 100, 200, 300, 400], "grid": true}}, "y2": {"field": "hi"}}},
          {"data": {"name": "soa"}, "transform": [{"filter": "datum.p == 7"}], "mark": {"type": "rule", "color": "#d4d4d4", "strokeWidth": 1},
           "encoding": {"x": {"field": "t", "type": "quantitative"}, "y": {"field": "lo", "type": "quantitative", "title": "SOA concentration (µg/m³)"}, "y2": {"field": "hi"}}},
          {"data": {"name": "inj"}, "transform": [{"filter": "datum.p == 7"}], "mark": {"type": "rule", "color": "#808080", "strokeWidth": 6},
           "encoding": {"x": {"field": "t", "type": "quantitative"}, "y": {"datum": 0, "type": "quantitative", "title": "SOA concentration (µg/m³)"}, "y2": {"datum": 300}}},
          {"data": {"name": "soa"}, "transform": [{"filter": "datum.p == 7"}], "mark": {"type": "line", "color": "#a8a8a8", "strokeWidth": 1.5},
           "encoding": {"x": {"field": "t", "type": "quantitative"}, "y": {"field": "m", "type": "quantitative", "title": "SOA concentration (µg/m³)"},
             "strokeDash": {"datum": "SOA", "scale": {"range": [[1, 0]]}, "legend": {"title": null, "legendX": 248, "legendY": 47, "symbolType": "stroke"}}}},
          {"data": {"name": "soa"}, "transform": [{"filter": "datum.p == 7"}], "mark": {"type": "point", "shape": "circle", "size": 30, "fill": "#fff", "stroke": "#9a9a9a", "strokeWidth": 1, "opacity": 1},
           "encoding": {"x": {"field": "t", "type": "quantitative"}, "y": {"field": "m", "type": "quantitative", "title": "SOA concentration (µg/m³)"}}}
        ]},
        {"layer": [
          {"data": {"name": "voc"}, "transform": [{"filter": "datum.p == 7"}], "mark": {"type": "line", "strokeWidth": 0.8},
           "encoding": {"x": {"field": "t", "type": "quantitative"},
             "y": {"field": "v", "type": "quantitative", "scale": {"domain": [0, 400], "nice": false}, "title": "VOCs concentration (ppb)", "axis": {"orient": "right", "values": [0, 100, 200, 300, 400], "grid": false}},
             "color": {"field": "s", "type": "nominal", "scale": {"domain": ["ISO", "APIN", "LIM"], "range": ["#aaa", "#aaa", "#aaa"]}, "legend": null}}},
          {"data": {"name": "voc"}, "transform": [{"filter": "datum.p == 7"}], "mark": {"type": "point", "size": 70, "strokeWidth": 1, "opacity": 1},
           "encoding": {"x": {"field": "t", "type": "quantitative"}, "y": {"field": "v", "type": "quantitative", "title": "VOCs concentration (ppb)"},
             "shape": {"field": "s", "type": "nominal", "scale": {"domain": ["ISO", "APIN", "LIM"], "range": ["circle", "triangle-down", "circle"]}, "legend": null},
             "fill": {"field": "s", "type": "nominal", "scale": {"domain": ["ISO", "APIN", "LIM"], "range": ["#fff", "#888", "#000"]}, "legend": null},
             "stroke": {"field": "s", "type": "nominal", "scale": {"domain": ["ISO", "APIN", "LIM"], "range": ["#aaa", "#888", "#000"]}, "legend": null}}},
          {"data": {"name": "voc"}, "transform": [{"filter": "datum.p == 0"}], "mark": {"type": "point", "stroke": "#000", "strokeWidth": 2, "opacity": 1},
           "encoding": {"x": {"field": "t", "type": "quantitative"}, "y": {"field": "v", "type": "quantitative", "title": "VOCs concentration (ppb)"},
             "shape": {"field": "s", "type": "nominal", "scale": {"domain": ["ISO", "APIN", "LIM"], "range": ["M-1,0H-0.13M0.13,0H1M-0.13,0A0.13,0.13,0,1,1,0.13,0A0.13,0.13,0,1,1,-0.13,0Z", "M-1,0H1M-0.15,-0.1L0.15,-0.1L0,0.16Z", "M-1,0H-0.13M0.13,0H1M-0.13,0A0.13,0.13,0,1,1,0.13,0A0.13,0.13,0,1,1,-0.13,0Z"]}, "legend": {"title": null, "legendX": 17, "legendY": 2, "columns": 4}},
             "fill": {"field": "s", "type": "nominal", "scale": {"domain": ["ISO", "APIN", "LIM"], "range": ["#fff", "#888", "#000"]}, "legend": {"title": null, "legendX": 17, "legendY": 2, "columns": 4}}}}
        ], "resolve": {"scale": {"shape": "independent", "fill": "independent"}}}
      ],
      "resolve": {"scale": {"y": "independent"}}
    },
    {
      "width": 657, "height": 521,
      "title": "20091027 - SOA and PARENT VOCs",
      "layer": [
        {"layer": [
          {"data": {"name": "soa"}, "transform": [{"filter": "datum.p == 8"}], "mark": {"type": "area", "color": "#ececec", "opacity": 1},
           "encoding": {"x": {"field": "t", "type": "quantitative", "scale": {"domain": [6, 18], "nice": false}, "axis": {"values": [6, 9, 12, 15, 18], "labelExpr": "datum.value + ':00'", "title": null, "grid": true}},
             "y": {"field": "lo", "type": "quantitative", "scale": {"domain": [0, 400], "nice": false}, "title": "SOA concentration (µg/m³)", "axis": {"values": [0, 100, 200, 300, 400], "grid": true}}, "y2": {"field": "hi"}}},
          {"data": {"name": "soa"}, "transform": [{"filter": "datum.p == 8"}], "mark": {"type": "rule", "color": "#d4d4d4", "strokeWidth": 1},
           "encoding": {"x": {"field": "t", "type": "quantitative"}, "y": {"field": "lo", "type": "quantitative", "title": "SOA concentration (µg/m³)"}, "y2": {"field": "hi"}}},
          {"data": {"name": "inj"}, "transform": [{"filter": "datum.p == 8"}], "mark": {"type": "rule", "color": "#808080", "strokeWidth": 6},
           "encoding": {"x": {"field": "t", "type": "quantitative"}, "y": {"datum": 0, "type": "quantitative", "title": "SOA concentration (µg/m³)"}, "y2": {"datum": 300}}},
          {"data": {"name": "soa"}, "transform": [{"filter": "datum.p == 8"}], "mark": {"type": "line", "color": "#9a9a9a", "strokeWidth": 1.3},
           "encoding": {"x": {"field": "t", "type": "quantitative"}, "y": {"field": "m", "type": "quantitative", "title": "SOA concentration (µg/m³)"},
             "strokeDash": {"datum": "SOA", "scale": {"range": [[1, 0]]}, "legend": {"title": null, "legendX": 250, "legendY": 47, "symbolType": "stroke"}}}}
        ]},
        {"layer": [
          {"data": {"name": "voc"}, "transform": [{"filter": "datum.p == 8"}], "mark": {"type": "line", "strokeWidth": 0.8},
           "encoding": {"x": {"field": "t", "type": "quantitative"},
             "y": {"field": "v", "type": "quantitative", "scale": {"domain": [0, 400], "nice": false}, "title": "VOCs concentration (ppb)", "axis": {"orient": "right", "values": [0, 100, 200, 300, 400], "grid": false, "labelPadding": 6, "titlePadding": 10}},
             "color": {"field": "s", "type": "nominal", "scale": {"domain": ["APIN", "LIM"], "range": ["#999", "#999"]}, "legend": null}}},
          {"data": {"name": "voc"}, "transform": [{"filter": "datum.p == 8"}], "mark": {"type": "point", "size": 70, "strokeWidth": 1, "opacity": 1},
           "encoding": {"x": {"field": "t", "type": "quantitative"}, "y": {"field": "v", "type": "quantitative", "title": "VOCs concentration (ppb)"},
             "shape": {"field": "s", "type": "nominal", "scale": {"domain": ["APIN", "LIM"], "range": ["triangle-down", "circle"]}, "legend": null},
             "fill": {"field": "s", "type": "nominal", "scale": {"domain": ["APIN", "LIM"], "range": ["#888", "#000"]}, "legend": null},
             "stroke": {"field": "s", "type": "nominal", "scale": {"domain": ["APIN", "LIM"], "range": ["#888", "#000"]}, "legend": null}}},
          {"data": {"name": "voc"}, "transform": [{"filter": "datum.p == 0"}], "mark": {"type": "point", "stroke": "#000", "strokeWidth": 2, "opacity": 1},
           "encoding": {"x": {"field": "t", "type": "quantitative"}, "y": {"field": "v", "type": "quantitative", "title": "VOCs concentration (ppb)"},
             "shape": {"field": "s", "type": "nominal", "scale": {"domain": ["APIN", "LIM"], "range": ["M-1,0H1M-0.15,-0.1L0.15,-0.1L0,0.16Z", "M-1,0H-0.13M0.13,0H1M-0.13,0A0.13,0.13,0,1,1,0.13,0A0.13,0.13,0,1,1,-0.13,0Z"]}, "legend": {"title": null, "legendX": 157, "legendY": 2, "columns": 4}},
             "fill": {"field": "s", "type": "nominal", "scale": {"domain": ["APIN", "LIM"], "range": ["#888", "#000"]}, "legend": {"title": null, "legendX": 157, "legendY": 2, "columns": 4}}}}
        ], "resolve": {"scale": {"shape": "independent", "fill": "independent"}}}
      ],
      "resolve": {"scale": {"y": "independent"}}
    }
  ],
  "config": {
    "font": "Liberation Sans",
    "view": {"stroke": "#000", "strokeWidth": 2},
    "axis": {"labelFontSize": 29, "labelColor": "#000", "titleFontSize": 30, "titleFontWeight": "normal", "titleColor": "#000", "domain": false, "ticks": false, "labelFlush": false, "labelOverlap": false, "gridColor": "#333", "gridWidth": 1, "gridOpacity": 1},
    "axisX": {"labelPadding": 7},
    "axisLeft": {"labelPadding": 6, "titlePadding": 10},
    "axisRight": {"labelPadding": 12, "titlePadding": 24, "titleAngle": 270, "titleBaseline": "top", "grid": false},
    "title": {"fontSize": 27, "fontWeight": "normal", "color": "#000", "offset": 0, "frame": "group", "anchor": "middle"},
    "legend": {"orient": "none", "labelFontSize": 29, "labelColor": "#000", "symbolSize": 3969, "labelOffset": 9, "columnPadding": 10, "padding": 0, "symbolStrokeWidth": 2}
  }
}
